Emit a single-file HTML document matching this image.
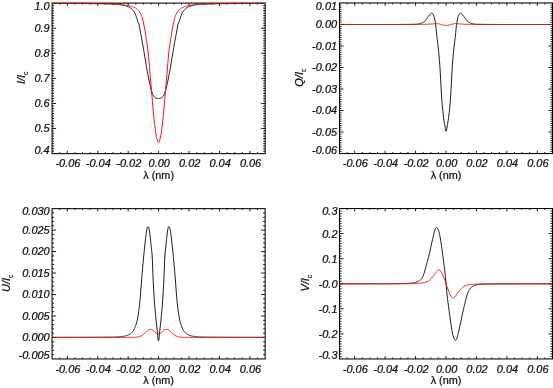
<!DOCTYPE html>
<html><head><meta charset="utf-8"><title>Stokes profiles</title>
<style>
html,body{margin:0;padding:0;background:#fff;}
body{width:553px;height:388px;overflow:hidden;}
svg{display:block;}
text{font-family:"Liberation Sans",Arial,Helvetica,sans-serif;fill:#111;stroke:#111;stroke-width:0.24px;}
.ti{font-size:10.2px;font-style:italic;}
.tr{font-size:10.5px;}
.sub{font-size:6.3px;font-style:normal;stroke-width:0.15px;}
</style></head><body>
<svg width="553" height="388" viewBox="0 0 553 388">
<rect width="553" height="388" fill="#fff"/>
<clipPath id="cP1"><rect x="52.07" y="2.6" width="213.10000000000002" height="151.55"/></clipPath>
<rect x="52.07" y="3.1" width="213.10000000000002" height="150.55" fill="none" stroke="#000" stroke-width="1.05"/>
<path d="M59.68,153.65v-1.5M59.68,3.1v1.5M67.29,153.65v-2.8M67.29,3.1v2.8M74.90,153.65v-1.5M74.90,3.1v1.5M82.51,153.65v-1.5M82.51,3.1v1.5M90.12,153.65v-1.5M90.12,3.1v1.5M97.73,153.65v-2.8M97.73,3.1v2.8M105.34,153.65v-1.5M105.34,3.1v1.5M112.96,153.65v-1.5M112.96,3.1v1.5M120.57,153.65v-1.5M120.57,3.1v1.5M128.18,153.65v-2.8M128.18,3.1v2.8M135.79,153.65v-1.5M135.79,3.1v1.5M143.40,153.65v-1.5M143.40,3.1v1.5M151.01,153.65v-1.5M151.01,3.1v1.5M158.62,153.65v-2.8M158.62,3.1v2.8M166.23,153.65v-1.5M166.23,3.1v1.5M173.84,153.65v-1.5M173.84,3.1v1.5M181.45,153.65v-1.5M181.45,3.1v1.5M189.06,153.65v-2.8M189.06,3.1v2.8M196.67,153.65v-1.5M196.67,3.1v1.5M204.28,153.65v-1.5M204.28,3.1v1.5M211.90,153.65v-1.5M211.90,3.1v1.5M219.51,153.65v-2.8M219.51,3.1v2.8M227.12,153.65v-1.5M227.12,3.1v1.5M234.73,153.65v-1.5M234.73,3.1v1.5M242.34,153.65v-1.5M242.34,3.1v1.5M249.95,153.65v-2.8M249.95,3.1v2.8M257.56,153.65v-1.5M257.56,3.1v1.5M52.07,151.14h2.0M265.17,151.14h-2.0M52.07,148.63h2.0M265.17,148.63h-2.0M52.07,146.12h2.0M265.17,146.12h-2.0M52.07,143.61h2.0M265.17,143.61h-2.0M52.07,141.10h2.0M265.17,141.10h-2.0M52.07,138.59h2.0M265.17,138.59h-2.0M52.07,136.09h2.0M265.17,136.09h-2.0M52.07,133.58h2.0M265.17,133.58h-2.0M52.07,131.07h2.0M265.17,131.07h-2.0M52.07,128.56h4.0M265.17,128.56h-4.0M52.07,126.05h2.0M265.17,126.05h-2.0M52.07,123.54h2.0M265.17,123.54h-2.0M52.07,121.03h2.0M265.17,121.03h-2.0M52.07,118.52h2.0M265.17,118.52h-2.0M52.07,116.01h2.0M265.17,116.01h-2.0M52.07,113.50h2.0M265.17,113.50h-2.0M52.07,110.99h2.0M265.17,110.99h-2.0M52.07,108.49h2.0M265.17,108.49h-2.0M52.07,105.98h2.0M265.17,105.98h-2.0M52.07,103.47h4.0M265.17,103.47h-4.0M52.07,100.96h2.0M265.17,100.96h-2.0M52.07,98.45h2.0M265.17,98.45h-2.0M52.07,95.94h2.0M265.17,95.94h-2.0M52.07,93.43h2.0M265.17,93.43h-2.0M52.07,90.92h2.0M265.17,90.92h-2.0M52.07,88.41h2.0M265.17,88.41h-2.0M52.07,85.90h2.0M265.17,85.90h-2.0M52.07,83.39h2.0M265.17,83.39h-2.0M52.07,80.88h2.0M265.17,80.88h-2.0M52.07,78.38h4.0M265.17,78.38h-4.0M52.07,75.87h2.0M265.17,75.87h-2.0M52.07,73.36h2.0M265.17,73.36h-2.0M52.07,70.85h2.0M265.17,70.85h-2.0M52.07,68.34h2.0M265.17,68.34h-2.0M52.07,65.83h2.0M265.17,65.83h-2.0M52.07,63.32h2.0M265.17,63.32h-2.0M52.07,60.81h2.0M265.17,60.81h-2.0M52.07,58.30h2.0M265.17,58.30h-2.0M52.07,55.79h2.0M265.17,55.79h-2.0M52.07,53.28h4.0M265.17,53.28h-4.0M52.07,50.77h2.0M265.17,50.77h-2.0M52.07,48.27h2.0M265.17,48.27h-2.0M52.07,45.76h2.0M265.17,45.76h-2.0M52.07,43.25h2.0M265.17,43.25h-2.0M52.07,40.74h2.0M265.17,40.74h-2.0M52.07,38.23h2.0M265.17,38.23h-2.0M52.07,35.72h2.0M265.17,35.72h-2.0M52.07,33.21h2.0M265.17,33.21h-2.0M52.07,30.70h2.0M265.17,30.70h-2.0M52.07,28.19h4.0M265.17,28.19h-4.0M52.07,25.68h2.0M265.17,25.68h-2.0M52.07,23.17h2.0M265.17,23.17h-2.0M52.07,20.66h2.0M265.17,20.66h-2.0M52.07,18.16h2.0M265.17,18.16h-2.0M52.07,15.65h2.0M265.17,15.65h-2.0M52.07,13.14h2.0M265.17,13.14h-2.0M52.07,10.63h2.0M265.17,10.63h-2.0M52.07,8.12h2.0M265.17,8.12h-2.0M52.07,5.61h2.0M265.17,5.61h-2.0" stroke="#000" stroke-width="0.9" fill="none"/>
<path clip-path="url(#cP1)" d="M52.07,3.35 L52.50,3.35 L52.92,3.35 L53.35,3.35 L53.78,3.35 L54.21,3.35 L54.63,3.35 L55.06,3.35 L55.49,3.35 L55.91,3.35 L56.34,3.35 L56.77,3.35 L57.19,3.36 L57.62,3.36 L58.05,3.36 L58.48,3.36 L58.90,3.36 L59.33,3.36 L59.76,3.36 L60.18,3.36 L60.61,3.37 L61.04,3.37 L61.47,3.37 L61.89,3.37 L62.32,3.37 L62.75,3.38 L63.17,3.38 L63.60,3.38 L64.03,3.38 L64.45,3.38 L64.88,3.39 L65.31,3.39 L65.74,3.39 L66.16,3.39 L66.59,3.40 L67.02,3.40 L67.44,3.40 L67.87,3.41 L68.30,3.41 L68.73,3.41 L69.15,3.41 L69.58,3.42 L70.01,3.42 L70.43,3.42 L70.86,3.43 L71.29,3.43 L71.71,3.43 L72.14,3.44 L72.57,3.44 L73.00,3.44 L73.42,3.45 L73.85,3.45 L74.28,3.46 L74.70,3.46 L75.13,3.46 L75.56,3.47 L75.99,3.47 L76.41,3.47 L76.84,3.48 L77.27,3.48 L77.69,3.49 L78.12,3.49 L78.55,3.49 L78.97,3.50 L79.40,3.50 L79.83,3.51 L80.26,3.51 L80.68,3.52 L81.11,3.52 L81.54,3.52 L81.96,3.53 L82.39,3.53 L82.82,3.54 L83.24,3.54 L83.67,3.55 L84.10,3.55 L84.53,3.56 L84.95,3.56 L85.38,3.57 L85.81,3.57 L86.23,3.57 L86.66,3.58 L87.09,3.58 L87.52,3.59 L87.94,3.59 L88.37,3.60 L88.80,3.60 L89.22,3.61 L89.65,3.61 L90.08,3.62 L90.50,3.62 L90.93,3.63 L91.36,3.63 L91.79,3.64 L92.21,3.64 L92.64,3.65 L93.07,3.65 L93.49,3.66 L93.92,3.67 L94.35,3.67 L94.78,3.68 L95.20,3.68 L95.63,3.69 L96.06,3.70 L96.48,3.70 L96.91,3.71 L97.34,3.72 L97.76,3.72 L98.19,3.73 L98.62,3.74 L99.05,3.75 L99.47,3.76 L99.90,3.76 L100.33,3.77 L100.75,3.78 L101.18,3.79 L101.61,3.80 L102.04,3.81 L102.46,3.82 L102.89,3.83 L103.32,3.84 L103.74,3.85 L104.17,3.86 L104.60,3.87 L105.02,3.88 L105.45,3.89 L105.88,3.90 L106.31,3.92 L106.73,3.93 L107.16,3.94 L107.59,3.95 L108.01,3.97 L108.44,3.98 L108.87,4.00 L109.30,4.01 L109.72,4.03 L110.15,4.04 L110.58,4.06 L111.00,4.07 L111.43,4.09 L111.86,4.11 L112.28,4.12 L112.71,4.14 L113.14,4.16 L113.57,4.18 L113.99,4.20 L114.42,4.22 L114.85,4.24 L115.27,4.26 L115.70,4.28 L116.13,4.30 L116.56,4.32 L116.98,4.34 L117.41,4.37 L117.84,4.39 L118.26,4.42 L118.69,4.45 L119.12,4.49 L119.54,4.54 L119.97,4.60 L120.40,4.67 L120.83,4.74 L121.25,4.82 L121.68,4.91 L122.11,5.00 L122.53,5.10 L122.96,5.20 L123.39,5.30 L123.82,5.41 L124.24,5.52 L124.67,5.63 L125.10,5.75 L125.52,5.87 L125.95,5.99 L126.38,6.11 L126.80,6.24 L127.23,6.39 L127.66,6.55 L128.09,6.72 L128.51,6.90 L128.94,7.10 L129.37,7.31 L129.79,7.54 L130.22,7.79 L130.65,8.07 L131.08,8.40 L131.50,8.75 L131.93,9.13 L132.36,9.55 L132.78,9.99 L133.21,10.48 L133.64,11.02 L134.06,11.64 L134.49,12.33 L134.92,13.13 L135.35,14.12 L135.77,15.25 L136.20,16.43 L136.63,17.63 L137.05,18.94 L137.48,20.26 L137.91,21.52 L138.33,22.58 L138.76,23.59 L139.19,24.96 L139.62,27.49 L140.04,29.93 L140.47,32.25 L140.90,34.52 L141.32,36.79 L141.75,39.11 L142.18,41.48 L142.61,43.88 L143.03,46.31 L143.46,48.77 L143.89,51.26 L144.31,53.80 L144.74,56.36 L145.17,58.91 L145.59,61.47 L146.02,64.07 L146.45,66.67 L146.88,69.19 L147.30,71.56 L147.73,73.82 L148.16,76.00 L148.58,78.10 L149.01,80.13 L149.44,82.10 L149.87,84.11 L150.29,86.08 L150.72,87.96 L151.15,89.66 L151.57,91.12 L152.00,92.34 L152.43,93.46 L152.85,94.46 L153.28,95.33 L153.71,96.04 L154.14,96.59 L154.56,97.09 L154.99,97.52 L155.42,97.87 L155.84,98.12 L156.27,98.26 L156.70,98.37 L157.13,98.43 L157.55,98.47 L157.98,98.49 L158.41,98.50 L158.83,98.50 L159.26,98.48 L159.69,98.45 L160.11,98.40 L160.54,98.31 L160.97,98.19 L161.40,97.99 L161.82,97.68 L162.25,97.28 L162.68,96.81 L163.10,96.29 L163.53,95.66 L163.96,94.86 L164.39,93.91 L164.81,92.84 L165.24,91.67 L165.67,90.34 L166.09,88.73 L166.52,86.92 L166.95,84.98 L167.37,82.98 L167.80,80.99 L168.23,79.00 L168.66,76.93 L169.08,74.78 L169.51,72.56 L169.94,70.25 L170.36,67.78 L170.79,65.22 L171.22,62.61 L171.65,60.03 L172.07,57.48 L172.50,54.92 L172.93,52.37 L173.35,49.85 L173.78,47.38 L174.21,44.94 L174.63,42.53 L175.06,40.15 L175.49,37.79 L175.92,35.51 L176.34,33.25 L176.77,30.96 L177.20,28.59 L177.62,25.91 L178.05,24.13 L178.48,23.00 L178.91,22.01 L179.33,20.82 L179.76,19.52 L180.19,18.20 L180.61,16.94 L181.04,15.76 L181.47,14.60 L181.89,13.54 L182.32,12.66 L182.75,11.93 L183.18,11.28 L183.60,10.71 L184.03,10.19 L184.46,9.74 L184.88,9.31 L185.31,8.91 L185.74,8.55 L186.16,8.21 L186.59,7.91 L187.02,7.65 L187.45,7.41 L187.87,7.19 L188.30,6.99 L188.73,6.80 L189.15,6.62 L189.58,6.46 L190.01,6.31 L190.44,6.17 L190.86,6.04 L191.29,5.92 L191.72,5.80 L192.14,5.68 L192.57,5.57 L193.00,5.46 L193.42,5.35 L193.85,5.24 L194.28,5.14 L194.71,5.04 L195.13,4.95 L195.56,4.86 L195.99,4.78 L196.41,4.70 L196.84,4.63 L197.27,4.57 L197.70,4.51 L198.12,4.47 L198.55,4.43 L198.98,4.40 L199.40,4.38 L199.83,4.35 L200.26,4.33 L200.68,4.31 L201.11,4.29 L201.54,4.27 L201.97,4.25 L202.39,4.23 L202.82,4.21 L203.25,4.19 L203.67,4.17 L204.10,4.15 L204.53,4.13 L204.96,4.11 L205.38,4.10 L205.81,4.08 L206.24,4.06 L206.66,4.05 L207.09,4.03 L207.52,4.02 L207.94,4.00 L208.37,3.99 L208.80,3.97 L209.23,3.96 L209.65,3.95 L210.08,3.93 L210.51,3.92 L210.93,3.91 L211.36,3.90 L211.79,3.89 L212.22,3.87 L212.64,3.86 L213.07,3.85 L213.50,3.84 L213.92,3.83 L214.35,3.82 L214.78,3.81 L215.20,3.80 L215.63,3.79 L216.06,3.78 L216.49,3.78 L216.91,3.77 L217.34,3.76 L217.77,3.75 L218.19,3.74 L218.62,3.74 L219.05,3.73 L219.48,3.72 L219.90,3.71 L220.33,3.71 L220.76,3.70 L221.18,3.69 L221.61,3.69 L222.04,3.68 L222.46,3.67 L222.89,3.67 L223.32,3.66 L223.75,3.66 L224.17,3.65 L224.60,3.65 L225.03,3.64 L225.45,3.64 L225.88,3.63 L226.31,3.63 L226.74,3.62 L227.16,3.62 L227.59,3.61 L228.02,3.61 L228.44,3.60 L228.87,3.60 L229.30,3.59 L229.72,3.59 L230.15,3.58 L230.58,3.58 L231.01,3.57 L231.43,3.57 L231.86,3.56 L232.29,3.56 L232.71,3.55 L233.14,3.55 L233.57,3.54 L234.00,3.54 L234.42,3.54 L234.85,3.53 L235.28,3.53 L235.70,3.52 L236.13,3.52 L236.56,3.51 L236.98,3.51 L237.41,3.50 L237.84,3.50 L238.27,3.50 L238.69,3.49 L239.12,3.49 L239.55,3.48 L239.97,3.48 L240.40,3.48 L240.83,3.47 L241.25,3.47 L241.68,3.46 L242.11,3.46 L242.54,3.46 L242.96,3.45 L243.39,3.45 L243.82,3.45 L244.24,3.44 L244.67,3.44 L245.10,3.44 L245.53,3.43 L245.95,3.43 L246.38,3.43 L246.81,3.42 L247.23,3.42 L247.66,3.42 L248.09,3.41 L248.51,3.41 L248.94,3.41 L249.37,3.40 L249.80,3.40 L250.22,3.40 L250.65,3.40 L251.08,3.39 L251.50,3.39 L251.93,3.39 L252.36,3.39 L252.79,3.38 L253.21,3.38 L253.64,3.38 L254.07,3.38 L254.49,3.37 L254.92,3.37 L255.35,3.37 L255.77,3.37 L256.20,3.37 L256.63,3.37 L257.06,3.36 L257.48,3.36 L257.91,3.36 L258.34,3.36 L258.76,3.36 L259.19,3.36 L259.62,3.36 L260.05,3.36 L260.47,3.35 L260.90,3.35 L261.33,3.35 L261.75,3.35 L262.18,3.35 L262.61,3.35 L263.03,3.35 L263.46,3.35 L263.89,3.35 L264.32,3.35 L264.74,3.35 L265.17,3.35" stroke="#111" stroke-width="0.95" fill="none" stroke-linejoin="round"/>
<path clip-path="url(#cP1)" d="M52.07,3.20 L52.50,3.20 L52.92,3.20 L53.35,3.20 L53.78,3.20 L54.21,3.20 L54.63,3.20 L55.06,3.20 L55.49,3.20 L55.91,3.20 L56.34,3.20 L56.77,3.20 L57.19,3.20 L57.62,3.21 L58.05,3.21 L58.48,3.21 L58.90,3.21 L59.33,3.21 L59.76,3.21 L60.18,3.21 L60.61,3.21 L61.04,3.21 L61.47,3.22 L61.89,3.22 L62.32,3.22 L62.75,3.22 L63.17,3.22 L63.60,3.22 L64.03,3.23 L64.45,3.23 L64.88,3.23 L65.31,3.23 L65.74,3.23 L66.16,3.24 L66.59,3.24 L67.02,3.24 L67.44,3.24 L67.87,3.24 L68.30,3.25 L68.73,3.25 L69.15,3.25 L69.58,3.25 L70.01,3.26 L70.43,3.26 L70.86,3.26 L71.29,3.26 L71.71,3.27 L72.14,3.27 L72.57,3.27 L73.00,3.28 L73.42,3.28 L73.85,3.28 L74.28,3.28 L74.70,3.29 L75.13,3.29 L75.56,3.29 L75.99,3.30 L76.41,3.30 L76.84,3.30 L77.27,3.31 L77.69,3.31 L78.12,3.31 L78.55,3.32 L78.97,3.32 L79.40,3.32 L79.83,3.33 L80.26,3.33 L80.68,3.33 L81.11,3.34 L81.54,3.34 L81.96,3.34 L82.39,3.35 L82.82,3.35 L83.24,3.35 L83.67,3.36 L84.10,3.36 L84.53,3.37 L84.95,3.37 L85.38,3.37 L85.81,3.38 L86.23,3.38 L86.66,3.38 L87.09,3.39 L87.52,3.39 L87.94,3.40 L88.37,3.40 L88.80,3.40 L89.22,3.41 L89.65,3.41 L90.08,3.41 L90.50,3.42 L90.93,3.42 L91.36,3.43 L91.79,3.43 L92.21,3.43 L92.64,3.44 L93.07,3.44 L93.49,3.45 L93.92,3.45 L94.35,3.46 L94.78,3.46 L95.20,3.47 L95.63,3.47 L96.06,3.47 L96.48,3.48 L96.91,3.48 L97.34,3.49 L97.76,3.50 L98.19,3.50 L98.62,3.51 L99.05,3.51 L99.47,3.52 L99.90,3.52 L100.33,3.53 L100.75,3.54 L101.18,3.54 L101.61,3.55 L102.04,3.56 L102.46,3.56 L102.89,3.57 L103.32,3.58 L103.74,3.59 L104.17,3.60 L104.60,3.60 L105.02,3.61 L105.45,3.62 L105.88,3.63 L106.31,3.64 L106.73,3.65 L107.16,3.66 L107.59,3.67 L108.01,3.68 L108.44,3.69 L108.87,3.70 L109.30,3.71 L109.72,3.72 L110.15,3.73 L110.58,3.74 L111.00,3.76 L111.43,3.77 L111.86,3.78 L112.28,3.79 L112.71,3.81 L113.14,3.82 L113.57,3.83 L113.99,3.85 L114.42,3.86 L114.85,3.88 L115.27,3.89 L115.70,3.91 L116.13,3.93 L116.56,3.94 L116.98,3.96 L117.41,3.98 L117.84,3.99 L118.26,4.01 L118.69,4.04 L119.12,4.07 L119.54,4.12 L119.97,4.16 L120.40,4.22 L120.83,4.28 L121.25,4.34 L121.68,4.41 L122.11,4.48 L122.53,4.55 L122.96,4.63 L123.39,4.71 L123.82,4.79 L124.24,4.87 L124.67,4.95 L125.10,5.03 L125.52,5.11 L125.95,5.19 L126.38,5.27 L126.80,5.35 L127.23,5.43 L127.66,5.51 L128.09,5.59 L128.51,5.68 L128.94,5.77 L129.37,5.86 L129.79,5.96 L130.22,6.06 L130.65,6.17 L131.08,6.28 L131.50,6.40 L131.93,6.53 L132.36,6.66 L132.78,6.80 L133.21,6.96 L133.64,7.12 L134.06,7.30 L134.49,7.49 L134.92,7.70 L135.35,7.92 L135.77,8.16 L136.20,8.44 L136.63,8.75 L137.05,9.10 L137.48,9.49 L137.91,9.90 L138.33,10.34 L138.76,10.82 L139.19,11.37 L139.62,11.99 L140.04,12.66 L140.47,13.40 L140.90,14.24 L141.32,15.20 L141.75,16.29 L142.18,17.55 L142.61,19.07 L143.03,20.79 L143.46,22.73 L143.89,24.93 L144.31,27.03 L144.74,29.35 L145.17,31.89 L145.59,34.57 L146.02,37.32 L146.45,40.04 L146.88,42.66 L147.30,45.38 L147.73,48.45 L148.16,52.17 L148.58,56.55 L149.01,61.27 L149.44,66.55 L149.87,71.75 L150.29,76.47 L150.72,81.23 L151.15,86.34 L151.57,91.47 L152.00,96.50 L152.43,101.50 L152.85,106.58 L153.28,111.33 L153.71,115.58 L154.14,119.56 L154.56,123.41 L154.99,126.93 L155.42,130.20 L155.84,133.53 L156.27,136.16 L156.70,138.02 L157.13,139.54 L157.55,140.91 L157.98,141.97 L158.41,142.46 L158.83,142.22 L159.26,141.45 L159.69,140.14 L160.11,138.72 L160.54,137.03 L160.97,134.82 L161.40,131.68 L161.82,128.37 L162.25,125.00 L162.68,121.26 L163.10,117.34 L163.53,113.24 L163.96,108.73 L164.39,103.73 L164.81,98.69 L165.24,93.68 L165.67,88.61 L166.09,83.43 L166.52,78.52 L166.95,73.85 L167.37,68.90 L167.80,63.53 L168.23,58.58 L168.66,54.03 L169.08,49.98 L169.51,46.66 L169.94,43.82 L170.36,41.19 L170.79,38.52 L171.22,35.77 L171.65,33.05 L172.07,30.44 L172.50,28.00 L172.93,25.85 L173.35,23.69 L173.78,21.59 L174.21,19.80 L174.63,18.18 L175.06,16.81 L175.49,15.66 L175.92,14.65 L176.34,13.76 L176.77,12.98 L177.20,12.28 L177.62,11.64 L178.05,11.06 L178.48,10.54 L178.91,10.09 L179.33,9.66 L179.76,9.27 L180.19,8.90 L180.61,8.57 L181.04,8.28 L181.47,8.02 L181.89,7.79 L182.32,7.58 L182.75,7.38 L183.18,7.20 L183.60,7.03 L184.03,6.87 L184.46,6.72 L184.88,6.58 L185.31,6.45 L185.74,6.33 L186.16,6.22 L186.59,6.11 L187.02,6.00 L187.45,5.90 L187.87,5.81 L188.30,5.72 L188.73,5.63 L189.15,5.54 L189.58,5.46 L190.01,5.38 L190.44,5.30 L190.86,5.22 L191.29,5.15 L191.72,5.07 L192.14,4.99 L192.57,4.91 L193.00,4.83 L193.42,4.75 L193.85,4.67 L194.28,4.59 L194.71,4.51 L195.13,4.44 L195.56,4.37 L195.99,4.30 L196.41,4.24 L196.84,4.19 L197.27,4.14 L197.70,4.09 L198.12,4.05 L198.55,4.02 L198.98,4.00 L199.40,3.98 L199.83,3.97 L200.26,3.95 L200.68,3.93 L201.11,3.92 L201.54,3.90 L201.97,3.88 L202.39,3.87 L202.82,3.85 L203.25,3.84 L203.67,3.83 L204.10,3.81 L204.53,3.80 L204.96,3.79 L205.38,3.77 L205.81,3.76 L206.24,3.75 L206.66,3.74 L207.09,3.73 L207.52,3.71 L207.94,3.70 L208.37,3.69 L208.80,3.68 L209.23,3.67 L209.65,3.66 L210.08,3.65 L210.51,3.64 L210.93,3.63 L211.36,3.62 L211.79,3.62 L212.22,3.61 L212.64,3.60 L213.07,3.59 L213.50,3.58 L213.92,3.58 L214.35,3.57 L214.78,3.56 L215.20,3.55 L215.63,3.55 L216.06,3.54 L216.49,3.53 L216.91,3.53 L217.34,3.52 L217.77,3.51 L218.19,3.51 L218.62,3.50 L219.05,3.50 L219.48,3.49 L219.90,3.49 L220.33,3.48 L220.76,3.48 L221.18,3.47 L221.61,3.47 L222.04,3.46 L222.46,3.46 L222.89,3.45 L223.32,3.45 L223.75,3.44 L224.17,3.44 L224.60,3.44 L225.03,3.43 L225.45,3.43 L225.88,3.42 L226.31,3.42 L226.74,3.42 L227.16,3.41 L227.59,3.41 L228.02,3.40 L228.44,3.40 L228.87,3.40 L229.30,3.39 L229.72,3.39 L230.15,3.39 L230.58,3.38 L231.01,3.38 L231.43,3.37 L231.86,3.37 L232.29,3.37 L232.71,3.36 L233.14,3.36 L233.57,3.36 L234.00,3.35 L234.42,3.35 L234.85,3.35 L235.28,3.34 L235.70,3.34 L236.13,3.33 L236.56,3.33 L236.98,3.33 L237.41,3.32 L237.84,3.32 L238.27,3.32 L238.69,3.31 L239.12,3.31 L239.55,3.31 L239.97,3.30 L240.40,3.30 L240.83,3.30 L241.25,3.30 L241.68,3.29 L242.11,3.29 L242.54,3.29 L242.96,3.28 L243.39,3.28 L243.82,3.28 L244.24,3.27 L244.67,3.27 L245.10,3.27 L245.53,3.27 L245.95,3.26 L246.38,3.26 L246.81,3.26 L247.23,3.26 L247.66,3.25 L248.09,3.25 L248.51,3.25 L248.94,3.25 L249.37,3.24 L249.80,3.24 L250.22,3.24 L250.65,3.24 L251.08,3.23 L251.50,3.23 L251.93,3.23 L252.36,3.23 L252.79,3.23 L253.21,3.23 L253.64,3.22 L254.07,3.22 L254.49,3.22 L254.92,3.22 L255.35,3.22 L255.77,3.22 L256.20,3.21 L256.63,3.21 L257.06,3.21 L257.48,3.21 L257.91,3.21 L258.34,3.21 L258.76,3.21 L259.19,3.21 L259.62,3.20 L260.05,3.20 L260.47,3.20 L260.90,3.20 L261.33,3.20 L261.75,3.20 L262.18,3.20 L262.61,3.20 L263.03,3.20 L263.46,3.20 L263.89,3.20 L264.32,3.20 L264.74,3.20 L265.17,3.20" stroke="#f00" stroke-width="0.95" fill="none" stroke-linejoin="round"/>
<text transform="translate(67.89,167.25) scale(1.075,1)" text-anchor="middle" class="ti">-0.06</text>
<text transform="translate(98.33,167.25) scale(1.075,1)" text-anchor="middle" class="ti">-0.04</text>
<text transform="translate(128.78,167.25) scale(1.075,1)" text-anchor="middle" class="ti">-0.02</text>
<text transform="translate(159.22,167.25) scale(1.075,1)" text-anchor="middle" class="ti">0.00</text>
<text transform="translate(189.66,167.25) scale(1.075,1)" text-anchor="middle" class="ti">0.02</text>
<text transform="translate(220.11,167.25) scale(1.075,1)" text-anchor="middle" class="ti">0.04</text>
<text transform="translate(250.55,167.25) scale(1.075,1)" text-anchor="middle" class="ti">0.06</text>
<text transform="translate(158.62,178.85) scale(1.035,1)" text-anchor="middle" class="tr">λ (nm)</text>
<text transform="translate(49.67,154.05) scale(1.075,1)" text-anchor="end" class="ti">0.4</text>
<text transform="translate(49.67,132.21) scale(1.075,1)" text-anchor="end" class="ti">0.5</text>
<text transform="translate(49.67,107.12) scale(1.075,1)" text-anchor="end" class="ti">0.6</text>
<text transform="translate(49.67,82.02) scale(1.075,1)" text-anchor="end" class="ti">0.7</text>
<text transform="translate(49.67,56.93) scale(1.075,1)" text-anchor="end" class="ti">0.8</text>
<text transform="translate(49.67,31.84) scale(1.075,1)" text-anchor="end" class="ti">0.9</text>
<text transform="translate(49.67,9.70) scale(1.075,1)" text-anchor="end" class="ti">1.0</text>
<text transform="translate(24.67,77.78) rotate(-90) scale(1.075,1)" text-anchor="middle" class="ti">I/I<tspan class="sub" dy="3.1">c</tspan></text>
<clipPath id="cP2"><rect x="339.5" y="2.45" width="213.0" height="151.60000000000002"/></clipPath>
<rect x="339.5" y="2.95" width="213.0" height="150.60000000000002" fill="none" stroke="#000" stroke-width="1.05"/>
<path d="M347.11,153.55v-1.5M347.11,2.95v1.5M354.71,153.55v-2.8M354.71,2.95v2.8M362.32,153.55v-1.5M362.32,2.95v1.5M369.93,153.55v-1.5M369.93,2.95v1.5M377.54,153.55v-1.5M377.54,2.95v1.5M385.14,153.55v-2.8M385.14,2.95v2.8M392.75,153.55v-1.5M392.75,2.95v1.5M400.36,153.55v-1.5M400.36,2.95v1.5M407.96,153.55v-1.5M407.96,2.95v1.5M415.57,153.55v-2.8M415.57,2.95v2.8M423.18,153.55v-1.5M423.18,2.95v1.5M430.79,153.55v-1.5M430.79,2.95v1.5M438.39,153.55v-1.5M438.39,2.95v1.5M446.00,153.55v-2.8M446.00,2.95v2.8M453.61,153.55v-1.5M453.61,2.95v1.5M461.21,153.55v-1.5M461.21,2.95v1.5M468.82,153.55v-1.5M468.82,2.95v1.5M476.43,153.55v-2.8M476.43,2.95v2.8M484.04,153.55v-1.5M484.04,2.95v1.5M491.64,153.55v-1.5M491.64,2.95v1.5M499.25,153.55v-1.5M499.25,2.95v1.5M506.86,153.55v-2.8M506.86,2.95v2.8M514.46,153.55v-1.5M514.46,2.95v1.5M522.07,153.55v-1.5M522.07,2.95v1.5M529.68,153.55v-1.5M529.68,2.95v1.5M537.29,153.55v-2.8M537.29,2.95v2.8M544.89,153.55v-1.5M544.89,2.95v1.5M339.5,151.40h2.0M552.5,151.40h-2.0M339.5,149.25h2.0M552.5,149.25h-2.0M339.5,147.10h2.0M552.5,147.10h-2.0M339.5,144.94h2.0M552.5,144.94h-2.0M339.5,142.79h2.0M552.5,142.79h-2.0M339.5,140.64h2.0M552.5,140.64h-2.0M339.5,138.49h2.0M552.5,138.49h-2.0M339.5,136.34h2.0M552.5,136.34h-2.0M339.5,134.19h2.0M552.5,134.19h-2.0M339.5,132.04h4.0M552.5,132.04h-4.0M339.5,129.88h2.0M552.5,129.88h-2.0M339.5,127.73h2.0M552.5,127.73h-2.0M339.5,125.58h2.0M552.5,125.58h-2.0M339.5,123.43h2.0M552.5,123.43h-2.0M339.5,121.28h2.0M552.5,121.28h-2.0M339.5,119.13h2.0M552.5,119.13h-2.0M339.5,116.98h2.0M552.5,116.98h-2.0M339.5,114.82h2.0M552.5,114.82h-2.0M339.5,112.67h2.0M552.5,112.67h-2.0M339.5,110.52h4.0M552.5,110.52h-4.0M339.5,108.37h2.0M552.5,108.37h-2.0M339.5,106.22h2.0M552.5,106.22h-2.0M339.5,104.07h2.0M552.5,104.07h-2.0M339.5,101.92h2.0M552.5,101.92h-2.0M339.5,99.76h2.0M552.5,99.76h-2.0M339.5,97.61h2.0M552.5,97.61h-2.0M339.5,95.46h2.0M552.5,95.46h-2.0M339.5,93.31h2.0M552.5,93.31h-2.0M339.5,91.16h2.0M552.5,91.16h-2.0M339.5,89.01h4.0M552.5,89.01h-4.0M339.5,86.86h2.0M552.5,86.86h-2.0M339.5,84.70h2.0M552.5,84.70h-2.0M339.5,82.55h2.0M552.5,82.55h-2.0M339.5,80.40h2.0M552.5,80.40h-2.0M339.5,78.25h2.0M552.5,78.25h-2.0M339.5,76.10h2.0M552.5,76.10h-2.0M339.5,73.95h2.0M552.5,73.95h-2.0M339.5,71.80h2.0M552.5,71.80h-2.0M339.5,69.64h2.0M552.5,69.64h-2.0M339.5,67.49h4.0M552.5,67.49h-4.0M339.5,65.34h2.0M552.5,65.34h-2.0M339.5,63.19h2.0M552.5,63.19h-2.0M339.5,61.04h2.0M552.5,61.04h-2.0M339.5,58.89h2.0M552.5,58.89h-2.0M339.5,56.74h2.0M552.5,56.74h-2.0M339.5,54.58h2.0M552.5,54.58h-2.0M339.5,52.43h2.0M552.5,52.43h-2.0M339.5,50.28h2.0M552.5,50.28h-2.0M339.5,48.13h2.0M552.5,48.13h-2.0M339.5,45.98h4.0M552.5,45.98h-4.0M339.5,43.83h2.0M552.5,43.83h-2.0M339.5,41.68h2.0M552.5,41.68h-2.0M339.5,39.52h2.0M552.5,39.52h-2.0M339.5,37.37h2.0M552.5,37.37h-2.0M339.5,35.22h2.0M552.5,35.22h-2.0M339.5,33.07h2.0M552.5,33.07h-2.0M339.5,30.92h2.0M552.5,30.92h-2.0M339.5,28.77h2.0M552.5,28.77h-2.0M339.5,26.62h2.0M552.5,26.62h-2.0M339.5,24.46h4.0M552.5,24.46h-4.0M339.5,22.31h2.0M552.5,22.31h-2.0M339.5,20.16h2.0M552.5,20.16h-2.0M339.5,18.01h2.0M552.5,18.01h-2.0M339.5,15.86h2.0M552.5,15.86h-2.0M339.5,13.71h2.0M552.5,13.71h-2.0M339.5,11.56h2.0M552.5,11.56h-2.0M339.5,9.40h2.0M552.5,9.40h-2.0M339.5,7.25h2.0M552.5,7.25h-2.0M339.5,5.10h2.0M552.5,5.10h-2.0" stroke="#000" stroke-width="0.9" fill="none"/>
<path clip-path="url(#cP2)" d="M339.50,24.50 L339.93,24.50 L340.35,24.50 L340.78,24.50 L341.21,24.50 L341.63,24.50 L342.06,24.50 L342.49,24.50 L342.91,24.50 L343.34,24.50 L343.77,24.50 L344.20,24.50 L344.62,24.50 L345.05,24.50 L345.48,24.50 L345.90,24.50 L346.33,24.50 L346.76,24.50 L347.18,24.50 L347.61,24.50 L348.04,24.50 L348.46,24.50 L348.89,24.50 L349.32,24.50 L349.74,24.50 L350.17,24.50 L350.60,24.50 L351.03,24.50 L351.45,24.50 L351.88,24.50 L352.31,24.50 L352.73,24.50 L353.16,24.50 L353.59,24.50 L354.01,24.50 L354.44,24.50 L354.87,24.50 L355.29,24.50 L355.72,24.50 L356.15,24.50 L356.57,24.50 L357.00,24.50 L357.43,24.50 L357.85,24.50 L358.28,24.50 L358.71,24.50 L359.14,24.50 L359.56,24.50 L359.99,24.50 L360.42,24.50 L360.84,24.50 L361.27,24.50 L361.70,24.50 L362.12,24.50 L362.55,24.50 L362.98,24.50 L363.40,24.49 L363.83,24.49 L364.26,24.49 L364.68,24.49 L365.11,24.49 L365.54,24.49 L365.96,24.49 L366.39,24.49 L366.82,24.49 L367.25,24.49 L367.67,24.49 L368.10,24.49 L368.53,24.49 L368.95,24.49 L369.38,24.49 L369.81,24.49 L370.23,24.49 L370.66,24.49 L371.09,24.49 L371.51,24.49 L371.94,24.49 L372.37,24.49 L372.79,24.49 L373.22,24.49 L373.65,24.49 L374.08,24.49 L374.50,24.49 L374.93,24.49 L375.36,24.49 L375.78,24.49 L376.21,24.49 L376.64,24.49 L377.06,24.49 L377.49,24.49 L377.92,24.49 L378.34,24.49 L378.77,24.49 L379.20,24.49 L379.62,24.49 L380.05,24.48 L380.48,24.48 L380.90,24.48 L381.33,24.48 L381.76,24.48 L382.19,24.48 L382.61,24.48 L383.04,24.48 L383.47,24.48 L383.89,24.48 L384.32,24.48 L384.75,24.48 L385.17,24.48 L385.60,24.48 L386.03,24.48 L386.45,24.48 L386.88,24.48 L387.31,24.48 L387.73,24.48 L388.16,24.48 L388.59,24.48 L389.02,24.48 L389.44,24.48 L389.87,24.47 L390.30,24.47 L390.72,24.47 L391.15,24.47 L391.58,24.47 L392.00,24.47 L392.43,24.47 L392.86,24.47 L393.28,24.47 L393.71,24.46 L394.14,24.46 L394.56,24.46 L394.99,24.46 L395.42,24.46 L395.84,24.46 L396.27,24.45 L396.70,24.45 L397.13,24.45 L397.55,24.45 L397.98,24.45 L398.41,24.44 L398.83,24.44 L399.26,24.44 L399.69,24.44 L400.11,24.44 L400.54,24.43 L400.97,24.43 L401.39,24.43 L401.82,24.43 L402.25,24.42 L402.67,24.42 L403.10,24.42 L403.53,24.42 L403.95,24.41 L404.38,24.41 L404.81,24.41 L405.24,24.41 L405.66,24.40 L406.09,24.40 L406.52,24.40 L406.94,24.39 L407.37,24.39 L407.80,24.39 L408.22,24.38 L408.65,24.38 L409.08,24.38 L409.50,24.37 L409.93,24.37 L410.36,24.36 L410.78,24.36 L411.21,24.35 L411.64,24.34 L412.07,24.34 L412.49,24.33 L412.92,24.32 L413.35,24.31 L413.77,24.30 L414.20,24.29 L414.63,24.28 L415.05,24.27 L415.48,24.26 L415.91,24.25 L416.33,24.22 L416.76,24.19 L417.19,24.15 L417.61,24.09 L418.04,24.03 L418.47,23.95 L418.89,23.87 L419.32,23.78 L419.75,23.69 L420.18,23.58 L420.60,23.48 L421.03,23.36 L421.46,23.22 L421.88,23.05 L422.31,22.84 L422.74,22.61 L423.16,22.35 L423.59,22.07 L424.02,21.77 L424.44,21.44 L424.87,21.07 L425.30,20.62 L425.72,20.10 L426.15,19.53 L426.58,18.94 L427.01,18.34 L427.43,17.76 L427.86,17.16 L428.29,16.53 L428.71,15.90 L429.14,15.31 L429.57,14.77 L429.99,14.27 L430.42,13.83 L430.85,13.46 L431.27,13.22 L431.70,13.10 L432.13,13.20 L432.55,13.48 L432.98,14.10 L433.41,14.92 L433.83,15.96 L434.26,17.27 L434.69,18.99 L435.12,21.21 L435.54,23.99 L435.97,27.44 L436.40,31.49 L436.82,35.83 L437.25,39.51 L437.68,42.62 L438.10,46.31 L438.53,50.38 L438.96,54.76 L439.38,59.48 L439.81,64.92 L440.24,72.05 L440.66,80.11 L441.09,88.19 L441.52,95.32 L441.94,101.32 L442.37,106.51 L442.80,110.80 L443.23,114.52 L443.65,117.81 L444.08,120.80 L444.51,123.39 L444.93,125.80 L445.36,128.45 L445.79,130.72 L446.21,131.27 L446.64,129.60 L447.07,127.02 L447.49,124.51 L447.92,122.06 L448.35,119.24 L448.77,116.11 L449.20,112.60 L449.63,108.62 L450.06,103.87 L450.48,98.22 L450.91,91.75 L451.34,83.91 L451.76,75.90 L452.19,67.94 L452.62,61.91 L453.04,56.91 L453.47,52.41 L453.90,48.17 L454.32,44.30 L454.75,40.88 L455.18,37.76 L455.60,33.46 L456.03,29.29 L456.46,25.54 L456.88,22.41 L457.31,19.98 L457.74,18.00 L458.17,16.54 L458.59,15.37 L459.02,14.47 L459.45,13.73 L459.87,13.31 L460.30,13.12 L460.73,13.15 L461.15,13.33 L461.58,13.65 L462.01,14.05 L462.43,14.53 L462.86,15.05 L463.29,15.61 L463.71,16.23 L464.14,16.86 L464.57,17.48 L464.99,18.06 L465.42,18.65 L465.85,19.25 L466.28,19.83 L466.70,20.38 L467.13,20.87 L467.56,21.28 L467.98,21.62 L468.41,21.93 L468.84,22.22 L469.26,22.49 L469.69,22.74 L470.12,22.96 L470.54,23.15 L470.97,23.30 L471.40,23.43 L471.82,23.54 L472.25,23.64 L472.68,23.74 L473.11,23.83 L473.53,23.92 L473.96,23.99 L474.39,24.06 L474.81,24.12 L475.24,24.17 L475.67,24.21 L476.09,24.24 L476.52,24.25 L476.95,24.27 L477.37,24.28 L477.80,24.29 L478.23,24.30 L478.65,24.31 L479.08,24.32 L479.51,24.33 L479.93,24.33 L480.36,24.34 L480.79,24.35 L481.22,24.35 L481.64,24.36 L482.07,24.36 L482.50,24.37 L482.92,24.37 L483.35,24.38 L483.78,24.38 L484.20,24.39 L484.63,24.39 L485.06,24.39 L485.48,24.40 L485.91,24.40 L486.34,24.40 L486.76,24.40 L487.19,24.41 L487.62,24.41 L488.05,24.41 L488.47,24.42 L488.90,24.42 L489.33,24.42 L489.75,24.42 L490.18,24.43 L490.61,24.43 L491.03,24.43 L491.46,24.43 L491.89,24.44 L492.31,24.44 L492.74,24.44 L493.17,24.44 L493.59,24.44 L494.02,24.45 L494.45,24.45 L494.87,24.45 L495.30,24.45 L495.73,24.45 L496.16,24.46 L496.58,24.46 L497.01,24.46 L497.44,24.46 L497.86,24.46 L498.29,24.46 L498.72,24.46 L499.14,24.47 L499.57,24.47 L500.00,24.47 L500.42,24.47 L500.85,24.47 L501.28,24.47 L501.70,24.47 L502.13,24.47 L502.56,24.47 L502.98,24.48 L503.41,24.48 L503.84,24.48 L504.27,24.48 L504.69,24.48 L505.12,24.48 L505.55,24.48 L505.97,24.48 L506.40,24.48 L506.83,24.48 L507.25,24.48 L507.68,24.48 L508.11,24.48 L508.53,24.48 L508.96,24.48 L509.39,24.48 L509.81,24.48 L510.24,24.48 L510.67,24.48 L511.10,24.48 L511.52,24.48 L511.95,24.48 L512.38,24.49 L512.80,24.49 L513.23,24.49 L513.66,24.49 L514.08,24.49 L514.51,24.49 L514.94,24.49 L515.36,24.49 L515.79,24.49 L516.22,24.49 L516.64,24.49 L517.07,24.49 L517.50,24.49 L517.92,24.49 L518.35,24.49 L518.78,24.49 L519.21,24.49 L519.63,24.49 L520.06,24.49 L520.49,24.49 L520.91,24.49 L521.34,24.49 L521.77,24.49 L522.19,24.49 L522.62,24.49 L523.05,24.49 L523.47,24.49 L523.90,24.49 L524.33,24.49 L524.75,24.49 L525.18,24.49 L525.61,24.49 L526.04,24.49 L526.46,24.49 L526.89,24.49 L527.32,24.49 L527.74,24.49 L528.17,24.49 L528.60,24.49 L529.02,24.50 L529.45,24.50 L529.88,24.50 L530.30,24.50 L530.73,24.50 L531.16,24.50 L531.58,24.50 L532.01,24.50 L532.44,24.50 L532.86,24.50 L533.29,24.50 L533.72,24.50 L534.15,24.50 L534.57,24.50 L535.00,24.50 L535.43,24.50 L535.85,24.50 L536.28,24.50 L536.71,24.50 L537.13,24.50 L537.56,24.50 L537.99,24.50 L538.41,24.50 L538.84,24.50 L539.27,24.50 L539.69,24.50 L540.12,24.50 L540.55,24.50 L540.97,24.50 L541.40,24.50 L541.83,24.50 L542.26,24.50 L542.68,24.50 L543.11,24.50 L543.54,24.50 L543.96,24.50 L544.39,24.50 L544.82,24.50 L545.24,24.50 L545.67,24.50 L546.10,24.50 L546.52,24.50 L546.95,24.50 L547.38,24.50 L547.80,24.50 L548.23,24.50 L548.66,24.50 L549.09,24.50 L549.51,24.50 L549.94,24.50 L550.37,24.50 L550.79,24.50 L551.22,24.50 L551.65,24.50 L552.07,24.50 L552.50,24.50" stroke="#111" stroke-width="0.95" fill="none" stroke-linejoin="round"/>
<path clip-path="url(#cP2)" d="M339.50,24.50 L339.93,24.50 L340.35,24.50 L340.78,24.50 L341.21,24.50 L341.63,24.50 L342.06,24.50 L342.49,24.50 L342.91,24.50 L343.34,24.50 L343.77,24.50 L344.20,24.50 L344.62,24.50 L345.05,24.50 L345.48,24.50 L345.90,24.50 L346.33,24.50 L346.76,24.50 L347.18,24.50 L347.61,24.50 L348.04,24.50 L348.46,24.50 L348.89,24.50 L349.32,24.50 L349.74,24.50 L350.17,24.50 L350.60,24.50 L351.03,24.50 L351.45,24.50 L351.88,24.50 L352.31,24.50 L352.73,24.50 L353.16,24.50 L353.59,24.50 L354.01,24.50 L354.44,24.50 L354.87,24.50 L355.29,24.50 L355.72,24.50 L356.15,24.50 L356.57,24.50 L357.00,24.50 L357.43,24.50 L357.85,24.50 L358.28,24.50 L358.71,24.50 L359.14,24.50 L359.56,24.50 L359.99,24.50 L360.42,24.50 L360.84,24.50 L361.27,24.50 L361.70,24.50 L362.12,24.50 L362.55,24.50 L362.98,24.50 L363.40,24.50 L363.83,24.50 L364.26,24.50 L364.68,24.50 L365.11,24.50 L365.54,24.50 L365.96,24.50 L366.39,24.50 L366.82,24.50 L367.25,24.50 L367.67,24.50 L368.10,24.50 L368.53,24.50 L368.95,24.50 L369.38,24.50 L369.81,24.50 L370.23,24.50 L370.66,24.50 L371.09,24.50 L371.51,24.50 L371.94,24.50 L372.37,24.50 L372.79,24.50 L373.22,24.50 L373.65,24.50 L374.08,24.50 L374.50,24.50 L374.93,24.50 L375.36,24.50 L375.78,24.50 L376.21,24.50 L376.64,24.50 L377.06,24.50 L377.49,24.50 L377.92,24.50 L378.34,24.50 L378.77,24.50 L379.20,24.50 L379.62,24.50 L380.05,24.50 L380.48,24.50 L380.90,24.50 L381.33,24.50 L381.76,24.50 L382.19,24.50 L382.61,24.50 L383.04,24.50 L383.47,24.50 L383.89,24.50 L384.32,24.50 L384.75,24.50 L385.17,24.50 L385.60,24.50 L386.03,24.50 L386.45,24.50 L386.88,24.50 L387.31,24.50 L387.73,24.50 L388.16,24.50 L388.59,24.50 L389.02,24.50 L389.44,24.50 L389.87,24.50 L390.30,24.50 L390.72,24.50 L391.15,24.50 L391.58,24.50 L392.00,24.50 L392.43,24.50 L392.86,24.50 L393.28,24.50 L393.71,24.50 L394.14,24.50 L394.56,24.50 L394.99,24.50 L395.42,24.50 L395.84,24.50 L396.27,24.50 L396.70,24.50 L397.13,24.50 L397.55,24.50 L397.98,24.50 L398.41,24.50 L398.83,24.50 L399.26,24.50 L399.69,24.50 L400.11,24.50 L400.54,24.50 L400.97,24.50 L401.39,24.50 L401.82,24.50 L402.25,24.50 L402.67,24.50 L403.10,24.50 L403.53,24.50 L403.95,24.50 L404.38,24.50 L404.81,24.50 L405.24,24.50 L405.66,24.50 L406.09,24.50 L406.52,24.50 L406.94,24.50 L407.37,24.50 L407.80,24.50 L408.22,24.50 L408.65,24.50 L409.08,24.50 L409.50,24.50 L409.93,24.50 L410.36,24.50 L410.78,24.50 L411.21,24.50 L411.64,24.50 L412.07,24.50 L412.49,24.50 L412.92,24.50 L413.35,24.50 L413.77,24.50 L414.20,24.50 L414.63,24.50 L415.05,24.50 L415.48,24.50 L415.91,24.50 L416.33,24.50 L416.76,24.50 L417.19,24.50 L417.61,24.50 L418.04,24.49 L418.47,24.49 L418.89,24.49 L419.32,24.48 L419.75,24.48 L420.18,24.47 L420.60,24.47 L421.03,24.46 L421.46,24.45 L421.88,24.45 L422.31,24.44 L422.74,24.43 L423.16,24.42 L423.59,24.41 L424.02,24.40 L424.44,24.39 L424.87,24.38 L425.30,24.37 L425.72,24.36 L426.15,24.35 L426.58,24.33 L427.01,24.31 L427.43,24.29 L427.86,24.26 L428.29,24.23 L428.71,24.20 L429.14,24.16 L429.57,24.12 L429.99,24.09 L430.42,24.05 L430.85,24.02 L431.27,23.99 L431.70,23.95 L432.13,23.91 L432.55,23.86 L432.98,23.82 L433.41,23.77 L433.83,23.73 L434.26,23.69 L434.69,23.66 L435.12,23.63 L435.54,23.61 L435.97,23.60 L436.40,23.60 L436.82,23.62 L437.25,23.66 L437.68,23.70 L438.10,23.75 L438.53,23.81 L438.96,23.88 L439.38,23.96 L439.81,24.07 L440.24,24.22 L440.66,24.36 L441.09,24.50 L441.52,24.62 L441.94,24.75 L442.37,24.87 L442.80,24.99 L443.23,25.08 L443.65,25.16 L444.08,25.22 L444.51,25.27 L444.93,25.32 L445.36,25.36 L445.79,25.39 L446.21,25.40 L446.64,25.38 L447.07,25.34 L447.49,25.30 L447.92,25.24 L448.35,25.19 L448.77,25.12 L449.20,25.04 L449.63,24.93 L450.06,24.81 L450.48,24.68 L450.91,24.55 L451.34,24.43 L451.76,24.29 L452.19,24.14 L452.62,24.01 L453.04,23.91 L453.47,23.84 L453.90,23.78 L454.32,23.72 L454.75,23.68 L455.18,23.64 L455.60,23.61 L456.03,23.60 L456.46,23.60 L456.88,23.62 L457.31,23.64 L457.74,23.67 L458.17,23.71 L458.59,23.75 L459.02,23.80 L459.45,23.84 L459.87,23.89 L460.30,23.93 L460.73,23.97 L461.15,24.00 L461.58,24.04 L462.01,24.07 L462.43,24.11 L462.86,24.14 L463.29,24.18 L463.71,24.21 L464.14,24.25 L464.57,24.28 L464.99,24.30 L465.42,24.32 L465.85,24.34 L466.28,24.35 L466.70,24.37 L467.13,24.38 L467.56,24.39 L467.98,24.40 L468.41,24.41 L468.84,24.42 L469.26,24.42 L469.69,24.43 L470.12,24.44 L470.54,24.45 L470.97,24.46 L471.40,24.46 L471.82,24.47 L472.25,24.47 L472.68,24.48 L473.11,24.48 L473.53,24.49 L473.96,24.49 L474.39,24.49 L474.81,24.50 L475.24,24.50 L475.67,24.50 L476.09,24.50 L476.52,24.50 L476.95,24.50 L477.37,24.50 L477.80,24.50 L478.23,24.50 L478.65,24.50 L479.08,24.50 L479.51,24.50 L479.93,24.50 L480.36,24.50 L480.79,24.50 L481.22,24.50 L481.64,24.50 L482.07,24.50 L482.50,24.50 L482.92,24.50 L483.35,24.50 L483.78,24.50 L484.20,24.50 L484.63,24.50 L485.06,24.50 L485.48,24.50 L485.91,24.50 L486.34,24.50 L486.76,24.50 L487.19,24.50 L487.62,24.50 L488.05,24.50 L488.47,24.50 L488.90,24.50 L489.33,24.50 L489.75,24.50 L490.18,24.50 L490.61,24.50 L491.03,24.50 L491.46,24.50 L491.89,24.50 L492.31,24.50 L492.74,24.50 L493.17,24.50 L493.59,24.50 L494.02,24.50 L494.45,24.50 L494.87,24.50 L495.30,24.50 L495.73,24.50 L496.16,24.50 L496.58,24.50 L497.01,24.50 L497.44,24.50 L497.86,24.50 L498.29,24.50 L498.72,24.50 L499.14,24.50 L499.57,24.50 L500.00,24.50 L500.42,24.50 L500.85,24.50 L501.28,24.50 L501.70,24.50 L502.13,24.50 L502.56,24.50 L502.98,24.50 L503.41,24.50 L503.84,24.50 L504.27,24.50 L504.69,24.50 L505.12,24.50 L505.55,24.50 L505.97,24.50 L506.40,24.50 L506.83,24.50 L507.25,24.50 L507.68,24.50 L508.11,24.50 L508.53,24.50 L508.96,24.50 L509.39,24.50 L509.81,24.50 L510.24,24.50 L510.67,24.50 L511.10,24.50 L511.52,24.50 L511.95,24.50 L512.38,24.50 L512.80,24.50 L513.23,24.50 L513.66,24.50 L514.08,24.50 L514.51,24.50 L514.94,24.50 L515.36,24.50 L515.79,24.50 L516.22,24.50 L516.64,24.50 L517.07,24.50 L517.50,24.50 L517.92,24.50 L518.35,24.50 L518.78,24.50 L519.21,24.50 L519.63,24.50 L520.06,24.50 L520.49,24.50 L520.91,24.50 L521.34,24.50 L521.77,24.50 L522.19,24.50 L522.62,24.50 L523.05,24.50 L523.47,24.50 L523.90,24.50 L524.33,24.50 L524.75,24.50 L525.18,24.50 L525.61,24.50 L526.04,24.50 L526.46,24.50 L526.89,24.50 L527.32,24.50 L527.74,24.50 L528.17,24.50 L528.60,24.50 L529.02,24.50 L529.45,24.50 L529.88,24.50 L530.30,24.50 L530.73,24.50 L531.16,24.50 L531.58,24.50 L532.01,24.50 L532.44,24.50 L532.86,24.50 L533.29,24.50 L533.72,24.50 L534.15,24.50 L534.57,24.50 L535.00,24.50 L535.43,24.50 L535.85,24.50 L536.28,24.50 L536.71,24.50 L537.13,24.50 L537.56,24.50 L537.99,24.50 L538.41,24.50 L538.84,24.50 L539.27,24.50 L539.69,24.50 L540.12,24.50 L540.55,24.50 L540.97,24.50 L541.40,24.50 L541.83,24.50 L542.26,24.50 L542.68,24.50 L543.11,24.50 L543.54,24.50 L543.96,24.50 L544.39,24.50 L544.82,24.50 L545.24,24.50 L545.67,24.50 L546.10,24.50 L546.52,24.50 L546.95,24.50 L547.38,24.50 L547.80,24.50 L548.23,24.50 L548.66,24.50 L549.09,24.50 L549.51,24.50 L549.94,24.50 L550.37,24.50 L550.79,24.50 L551.22,24.50 L551.65,24.50 L552.07,24.50 L552.50,24.50" stroke="#f00" stroke-width="0.95" fill="none" stroke-linejoin="round"/>
<text transform="translate(355.31,167.15) scale(1.075,1)" text-anchor="middle" class="ti">-0.06</text>
<text transform="translate(385.74,167.15) scale(1.075,1)" text-anchor="middle" class="ti">-0.04</text>
<text transform="translate(416.17,167.15) scale(1.075,1)" text-anchor="middle" class="ti">-0.02</text>
<text transform="translate(446.60,167.15) scale(1.075,1)" text-anchor="middle" class="ti">0.00</text>
<text transform="translate(477.03,167.15) scale(1.075,1)" text-anchor="middle" class="ti">0.02</text>
<text transform="translate(507.46,167.15) scale(1.075,1)" text-anchor="middle" class="ti">0.04</text>
<text transform="translate(537.89,167.15) scale(1.075,1)" text-anchor="middle" class="ti">0.06</text>
<text transform="translate(446.00,178.75) scale(1.035,1)" text-anchor="middle" class="tr">λ (nm)</text>
<text transform="translate(337.10,153.95) scale(1.075,1)" text-anchor="end" class="ti">-0.06</text>
<text transform="translate(337.10,135.74) scale(1.075,1)" text-anchor="end" class="ti">-0.05</text>
<text transform="translate(337.10,114.22) scale(1.075,1)" text-anchor="end" class="ti">-0.04</text>
<text transform="translate(337.10,92.71) scale(1.075,1)" text-anchor="end" class="ti">-0.03</text>
<text transform="translate(337.10,71.19) scale(1.075,1)" text-anchor="end" class="ti">-0.02</text>
<text transform="translate(337.10,49.68) scale(1.075,1)" text-anchor="end" class="ti">-0.01</text>
<text transform="translate(337.10,28.16) scale(1.075,1)" text-anchor="end" class="ti">0.00</text>
<text transform="translate(337.10,9.80) scale(1.075,1)" text-anchor="end" class="ti">0.01</text>
<text transform="translate(302.90,77.65) rotate(-90) scale(1.075,1)" text-anchor="middle" class="ti">Q/I<tspan class="sub" dy="3.1">c</tspan></text>
<clipPath id="cP3"><rect x="52.07" y="208.15" width="213.05" height="151.29999999999998"/></clipPath>
<rect x="52.07" y="208.65" width="213.05" height="150.29999999999998" fill="none" stroke="#000" stroke-width="1.05"/>
<path d="M59.68,358.95v-1.5M59.68,208.65v1.5M67.29,358.95v-2.8M67.29,208.65v2.8M74.90,358.95v-1.5M74.90,208.65v1.5M82.51,358.95v-1.5M82.51,208.65v1.5M90.11,358.95v-1.5M90.11,208.65v1.5M97.72,358.95v-2.8M97.72,208.65v2.8M105.33,358.95v-1.5M105.33,208.65v1.5M112.94,358.95v-1.5M112.94,208.65v1.5M120.55,358.95v-1.5M120.55,208.65v1.5M128.16,358.95v-2.8M128.16,208.65v2.8M135.77,358.95v-1.5M135.77,208.65v1.5M143.38,358.95v-1.5M143.38,208.65v1.5M150.99,358.95v-1.5M150.99,208.65v1.5M158.59,358.95v-2.8M158.59,208.65v2.8M166.20,358.95v-1.5M166.20,208.65v1.5M173.81,358.95v-1.5M173.81,208.65v1.5M181.42,358.95v-1.5M181.42,208.65v1.5M189.03,358.95v-2.8M189.03,208.65v2.8M196.64,358.95v-1.5M196.64,208.65v1.5M204.25,358.95v-1.5M204.25,208.65v1.5M211.86,358.95v-1.5M211.86,208.65v1.5M219.47,358.95v-2.8M219.47,208.65v2.8M227.08,358.95v-1.5M227.08,208.65v1.5M234.68,358.95v-1.5M234.68,208.65v1.5M242.29,358.95v-1.5M242.29,208.65v1.5M249.90,358.95v-2.8M249.90,208.65v2.8M257.51,358.95v-1.5M257.51,208.65v1.5M52.07,354.66h2.0M265.12,354.66h-2.0M52.07,350.36h2.0M265.12,350.36h-2.0M52.07,346.07h2.0M265.12,346.07h-2.0M52.07,341.77h2.0M265.12,341.77h-2.0M52.07,337.48h4.0M265.12,337.48h-4.0M52.07,333.18h2.0M265.12,333.18h-2.0M52.07,328.89h2.0M265.12,328.89h-2.0M52.07,324.60h2.0M265.12,324.60h-2.0M52.07,320.30h2.0M265.12,320.30h-2.0M52.07,316.01h4.0M265.12,316.01h-4.0M52.07,311.71h2.0M265.12,311.71h-2.0M52.07,307.42h2.0M265.12,307.42h-2.0M52.07,303.12h2.0M265.12,303.12h-2.0M52.07,298.83h2.0M265.12,298.83h-2.0M52.07,294.54h4.0M265.12,294.54h-4.0M52.07,290.24h2.0M265.12,290.24h-2.0M52.07,285.95h2.0M265.12,285.95h-2.0M52.07,281.65h2.0M265.12,281.65h-2.0M52.07,277.36h2.0M265.12,277.36h-2.0M52.07,273.06h4.0M265.12,273.06h-4.0M52.07,268.77h2.0M265.12,268.77h-2.0M52.07,264.48h2.0M265.12,264.48h-2.0M52.07,260.18h2.0M265.12,260.18h-2.0M52.07,255.89h2.0M265.12,255.89h-2.0M52.07,251.59h4.0M265.12,251.59h-4.0M52.07,247.30h2.0M265.12,247.30h-2.0M52.07,243.00h2.0M265.12,243.00h-2.0M52.07,238.71h2.0M265.12,238.71h-2.0M52.07,234.42h2.0M265.12,234.42h-2.0M52.07,230.12h4.0M265.12,230.12h-4.0M52.07,225.83h2.0M265.12,225.83h-2.0M52.07,221.53h2.0M265.12,221.53h-2.0M52.07,217.24h2.0M265.12,217.24h-2.0M52.07,212.94h2.0M265.12,212.94h-2.0" stroke="#000" stroke-width="0.9" fill="none"/>
<path clip-path="url(#cP3)" d="M52.07,337.35 L52.50,337.35 L52.92,337.35 L53.35,337.35 L53.78,337.35 L54.20,337.35 L54.63,337.35 L55.06,337.35 L55.49,337.35 L55.91,337.35 L56.34,337.35 L56.77,337.35 L57.19,337.35 L57.62,337.35 L58.05,337.35 L58.47,337.35 L58.90,337.35 L59.33,337.35 L59.76,337.35 L60.18,337.35 L60.61,337.35 L61.04,337.35 L61.46,337.35 L61.89,337.35 L62.32,337.35 L62.74,337.34 L63.17,337.34 L63.60,337.34 L64.02,337.34 L64.45,337.34 L64.88,337.34 L65.31,337.34 L65.73,337.34 L66.16,337.34 L66.59,337.34 L67.01,337.34 L67.44,337.34 L67.87,337.34 L68.29,337.34 L68.72,337.34 L69.15,337.34 L69.58,337.34 L70.00,337.34 L70.43,337.33 L70.86,337.33 L71.28,337.33 L71.71,337.33 L72.14,337.33 L72.56,337.33 L72.99,337.33 L73.42,337.33 L73.84,337.33 L74.27,337.33 L74.70,337.33 L75.13,337.33 L75.55,337.32 L75.98,337.32 L76.41,337.32 L76.83,337.32 L77.26,337.32 L77.69,337.32 L78.11,337.32 L78.54,337.32 L78.97,337.32 L79.40,337.32 L79.82,337.31 L80.25,337.31 L80.68,337.31 L81.10,337.31 L81.53,337.31 L81.96,337.31 L82.38,337.31 L82.81,337.31 L83.24,337.30 L83.66,337.30 L84.09,337.30 L84.52,337.30 L84.95,337.30 L85.37,337.30 L85.80,337.30 L86.23,337.30 L86.65,337.29 L87.08,337.29 L87.51,337.29 L87.93,337.29 L88.36,337.29 L88.79,337.29 L89.21,337.29 L89.64,337.28 L90.07,337.28 L90.50,337.28 L90.92,337.28 L91.35,337.28 L91.78,337.28 L92.20,337.27 L92.63,337.27 L93.06,337.27 L93.48,337.27 L93.91,337.27 L94.34,337.27 L94.77,337.27 L95.19,337.26 L95.62,337.26 L96.05,337.26 L96.47,337.26 L96.90,337.26 L97.33,337.25 L97.75,337.25 L98.18,337.25 L98.61,337.25 L99.03,337.25 L99.46,337.25 L99.89,337.24 L100.32,337.24 L100.74,337.24 L101.17,337.24 L101.60,337.23 L102.02,337.23 L102.45,337.23 L102.88,337.22 L103.30,337.22 L103.73,337.22 L104.16,337.21 L104.59,337.21 L105.01,337.21 L105.44,337.20 L105.87,337.20 L106.29,337.19 L106.72,337.19 L107.15,337.18 L107.57,337.18 L108.00,337.17 L108.43,337.16 L108.85,337.16 L109.28,337.15 L109.71,337.14 L110.14,337.14 L110.56,337.13 L110.99,337.12 L111.42,337.11 L111.84,337.11 L112.27,337.10 L112.70,337.09 L113.12,337.08 L113.55,337.07 L113.98,337.06 L114.41,337.05 L114.83,337.04 L115.26,337.03 L115.69,337.02 L116.11,337.01 L116.54,337.00 L116.97,336.98 L117.39,336.97 L117.82,336.96 L118.25,336.94 L118.67,336.92 L119.10,336.90 L119.53,336.86 L119.96,336.82 L120.38,336.78 L120.81,336.73 L121.24,336.67 L121.66,336.61 L122.09,336.55 L122.52,336.48 L122.94,336.41 L123.37,336.33 L123.80,336.25 L124.23,336.17 L124.65,336.08 L125.08,335.99 L125.51,335.90 L125.93,335.80 L126.36,335.68 L126.79,335.55 L127.21,335.41 L127.64,335.25 L128.07,335.07 L128.49,334.88 L128.92,334.68 L129.35,334.46 L129.78,334.23 L130.20,333.98 L130.63,333.68 L131.06,333.34 L131.48,332.95 L131.91,332.51 L132.34,332.03 L132.76,331.51 L133.19,330.93 L133.62,330.22 L134.05,329.39 L134.47,328.47 L134.90,327.50 L135.33,326.50 L135.75,325.43 L136.18,324.21 L136.61,322.81 L137.03,321.16 L137.46,319.22 L137.89,316.95 L138.31,314.25 L138.74,311.33 L139.17,308.18 L139.60,304.58 L140.02,300.16 L140.45,295.23 L140.88,289.81 L141.30,284.14 L141.73,278.59 L142.16,273.44 L142.58,268.46 L143.01,263.64 L143.44,258.98 L143.87,254.50 L144.29,250.27 L144.72,246.17 L145.15,242.12 L145.57,238.26 L146.00,234.74 L146.43,231.82 L146.85,229.52 L147.28,227.89 L147.71,226.95 L148.13,226.60 L148.56,227.02 L148.99,228.35 L149.42,230.72 L149.84,233.94 L150.27,237.63 L150.70,241.70 L151.12,245.85 L151.55,249.53 L151.98,253.02 L152.40,260.10 L152.83,272.30 L153.26,281.90 L153.69,290.04 L154.11,297.19 L154.54,303.29 L154.97,308.57 L155.39,313.26 L155.82,317.69 L156.25,322.05 L156.67,325.94 L157.10,329.69 L157.53,333.80 L157.95,338.22 L158.38,340.90 L158.81,339.92 L159.24,336.21 L159.66,331.95 L160.09,327.95 L160.52,324.31 L160.94,320.14 L161.37,315.73 L161.80,311.23 L162.22,306.30 L162.65,300.70 L163.08,294.13 L163.50,286.54 L163.93,277.96 L164.36,266.80 L164.79,255.97 L165.21,251.32 L165.64,248.03 L166.07,244.01 L166.49,239.85 L166.92,235.93 L167.35,232.44 L167.77,229.56 L168.20,227.64 L168.63,226.75 L169.06,226.70 L169.48,227.30 L169.91,228.54 L170.34,230.47 L170.76,233.05 L171.19,236.25 L171.62,239.94 L172.04,243.91 L172.47,247.99 L172.90,252.13 L173.32,256.47 L173.75,261.04 L174.18,265.77 L174.61,270.66 L175.03,275.69 L175.46,281.02 L175.89,286.67 L176.31,292.28 L176.74,297.47 L177.17,302.23 L177.59,306.26 L178.02,309.63 L178.45,312.65 L178.88,315.49 L179.30,318.01 L179.73,320.12 L180.16,321.92 L180.58,323.47 L181.01,324.77 L181.44,325.92 L181.86,326.95 L182.29,327.94 L182.72,328.89 L183.14,329.77 L183.57,330.55 L184.00,331.20 L184.43,331.74 L184.85,332.25 L185.28,332.71 L185.71,333.13 L186.13,333.50 L186.56,333.82 L186.99,334.09 L187.41,334.33 L187.84,334.56 L188.27,334.77 L188.70,334.97 L189.12,335.15 L189.55,335.32 L189.98,335.47 L190.40,335.61 L190.83,335.74 L191.26,335.84 L191.68,335.94 L192.11,336.03 L192.54,336.12 L192.96,336.20 L193.39,336.29 L193.82,336.36 L194.25,336.44 L194.67,336.51 L195.10,336.58 L195.53,336.64 L195.95,336.70 L196.38,336.75 L196.81,336.80 L197.23,336.84 L197.66,336.88 L198.09,336.91 L198.52,336.93 L198.94,336.95 L199.37,336.96 L199.80,336.98 L200.22,336.99 L200.65,337.00 L201.08,337.01 L201.50,337.02 L201.93,337.03 L202.36,337.05 L202.78,337.06 L203.21,337.07 L203.64,337.08 L204.07,337.08 L204.49,337.09 L204.92,337.10 L205.35,337.11 L205.77,337.12 L206.20,337.13 L206.63,337.13 L207.05,337.14 L207.48,337.15 L207.91,337.15 L208.34,337.16 L208.76,337.17 L209.19,337.17 L209.62,337.18 L210.04,337.18 L210.47,337.19 L210.90,337.19 L211.32,337.20 L211.75,337.20 L212.18,337.21 L212.60,337.21 L213.03,337.22 L213.46,337.22 L213.89,337.22 L214.31,337.23 L214.74,337.23 L215.17,337.23 L215.59,337.23 L216.02,337.24 L216.45,337.24 L216.87,337.24 L217.30,337.24 L217.73,337.25 L218.16,337.25 L218.58,337.25 L219.01,337.25 L219.44,337.25 L219.86,337.26 L220.29,337.26 L220.72,337.26 L221.14,337.26 L221.57,337.26 L222.00,337.26 L222.42,337.27 L222.85,337.27 L223.28,337.27 L223.71,337.27 L224.13,337.27 L224.56,337.27 L224.99,337.28 L225.41,337.28 L225.84,337.28 L226.27,337.28 L226.69,337.28 L227.12,337.28 L227.55,337.28 L227.98,337.29 L228.40,337.29 L228.83,337.29 L229.26,337.29 L229.68,337.29 L230.11,337.29 L230.54,337.29 L230.96,337.30 L231.39,337.30 L231.82,337.30 L232.24,337.30 L232.67,337.30 L233.10,337.30 L233.53,337.30 L233.95,337.31 L234.38,337.31 L234.81,337.31 L235.23,337.31 L235.66,337.31 L236.09,337.31 L236.51,337.31 L236.94,337.31 L237.37,337.31 L237.79,337.32 L238.22,337.32 L238.65,337.32 L239.08,337.32 L239.50,337.32 L239.93,337.32 L240.36,337.32 L240.78,337.32 L241.21,337.32 L241.64,337.32 L242.06,337.33 L242.49,337.33 L242.92,337.33 L243.35,337.33 L243.77,337.33 L244.20,337.33 L244.63,337.33 L245.05,337.33 L245.48,337.33 L245.91,337.33 L246.33,337.33 L246.76,337.33 L247.19,337.34 L247.61,337.34 L248.04,337.34 L248.47,337.34 L248.90,337.34 L249.32,337.34 L249.75,337.34 L250.18,337.34 L250.60,337.34 L251.03,337.34 L251.46,337.34 L251.88,337.34 L252.31,337.34 L252.74,337.34 L253.17,337.34 L253.59,337.34 L254.02,337.34 L254.45,337.35 L254.87,337.35 L255.30,337.35 L255.73,337.35 L256.15,337.35 L256.58,337.35 L257.01,337.35 L257.43,337.35 L257.86,337.35 L258.29,337.35 L258.72,337.35 L259.14,337.35 L259.57,337.35 L260.00,337.35 L260.42,337.35 L260.85,337.35 L261.28,337.35 L261.70,337.35 L262.13,337.35 L262.56,337.35 L262.99,337.35 L263.41,337.35 L263.84,337.35 L264.27,337.35 L264.69,337.35 L265.12,337.35" stroke="#111" stroke-width="0.95" fill="none" stroke-linejoin="round"/>
<path clip-path="url(#cP3)" d="M52.07,337.40 L52.50,337.40 L52.92,337.40 L53.35,337.40 L53.78,337.40 L54.20,337.40 L54.63,337.40 L55.06,337.40 L55.49,337.40 L55.91,337.40 L56.34,337.40 L56.77,337.40 L57.19,337.40 L57.62,337.40 L58.05,337.40 L58.47,337.40 L58.90,337.40 L59.33,337.40 L59.76,337.40 L60.18,337.40 L60.61,337.40 L61.04,337.40 L61.46,337.40 L61.89,337.40 L62.32,337.40 L62.74,337.40 L63.17,337.40 L63.60,337.40 L64.02,337.40 L64.45,337.40 L64.88,337.40 L65.31,337.40 L65.73,337.40 L66.16,337.40 L66.59,337.40 L67.01,337.40 L67.44,337.40 L67.87,337.40 L68.29,337.40 L68.72,337.40 L69.15,337.40 L69.58,337.40 L70.00,337.40 L70.43,337.40 L70.86,337.40 L71.28,337.40 L71.71,337.40 L72.14,337.40 L72.56,337.40 L72.99,337.40 L73.42,337.40 L73.84,337.40 L74.27,337.40 L74.70,337.40 L75.13,337.40 L75.55,337.40 L75.98,337.40 L76.41,337.40 L76.83,337.40 L77.26,337.40 L77.69,337.40 L78.11,337.40 L78.54,337.40 L78.97,337.40 L79.40,337.40 L79.82,337.40 L80.25,337.40 L80.68,337.40 L81.10,337.40 L81.53,337.40 L81.96,337.40 L82.38,337.40 L82.81,337.40 L83.24,337.40 L83.66,337.40 L84.09,337.40 L84.52,337.40 L84.95,337.40 L85.37,337.40 L85.80,337.40 L86.23,337.40 L86.65,337.40 L87.08,337.40 L87.51,337.40 L87.93,337.40 L88.36,337.40 L88.79,337.40 L89.21,337.40 L89.64,337.40 L90.07,337.40 L90.50,337.40 L90.92,337.40 L91.35,337.40 L91.78,337.40 L92.20,337.40 L92.63,337.40 L93.06,337.40 L93.48,337.40 L93.91,337.40 L94.34,337.40 L94.77,337.40 L95.19,337.40 L95.62,337.40 L96.05,337.40 L96.47,337.40 L96.90,337.40 L97.33,337.40 L97.75,337.40 L98.18,337.40 L98.61,337.40 L99.03,337.40 L99.46,337.40 L99.89,337.40 L100.32,337.40 L100.74,337.40 L101.17,337.40 L101.60,337.40 L102.02,337.40 L102.45,337.40 L102.88,337.40 L103.30,337.40 L103.73,337.40 L104.16,337.40 L104.59,337.40 L105.01,337.40 L105.44,337.40 L105.87,337.40 L106.29,337.40 L106.72,337.40 L107.15,337.40 L107.57,337.40 L108.00,337.40 L108.43,337.40 L108.85,337.40 L109.28,337.40 L109.71,337.40 L110.14,337.40 L110.56,337.40 L110.99,337.40 L111.42,337.40 L111.84,337.40 L112.27,337.40 L112.70,337.40 L113.12,337.40 L113.55,337.40 L113.98,337.40 L114.41,337.40 L114.83,337.40 L115.26,337.40 L115.69,337.40 L116.11,337.40 L116.54,337.40 L116.97,337.40 L117.39,337.40 L117.82,337.40 L118.25,337.40 L118.67,337.40 L119.10,337.40 L119.53,337.40 L119.96,337.40 L120.38,337.40 L120.81,337.40 L121.24,337.40 L121.66,337.40 L122.09,337.40 L122.52,337.40 L122.94,337.40 L123.37,337.39 L123.80,337.39 L124.23,337.39 L124.65,337.39 L125.08,337.39 L125.51,337.39 L125.93,337.39 L126.36,337.39 L126.79,337.38 L127.21,337.38 L127.64,337.38 L128.07,337.38 L128.49,337.38 L128.92,337.37 L129.35,337.37 L129.78,337.37 L130.20,337.37 L130.63,337.36 L131.06,337.36 L131.48,337.36 L131.91,337.35 L132.34,337.35 L132.76,337.35 L133.19,337.34 L133.62,337.33 L134.05,337.31 L134.47,337.29 L134.90,337.27 L135.33,337.24 L135.75,337.21 L136.18,337.17 L136.61,337.14 L137.03,337.09 L137.46,337.05 L137.89,337.00 L138.31,336.95 L138.74,336.87 L139.17,336.76 L139.60,336.62 L140.02,336.45 L140.45,336.26 L140.88,336.06 L141.30,335.84 L141.73,335.62 L142.16,335.38 L142.58,335.12 L143.01,334.81 L143.44,334.48 L143.87,334.13 L144.29,333.77 L144.72,333.41 L145.15,333.05 L145.57,332.65 L146.00,332.24 L146.43,331.83 L146.85,331.42 L147.28,331.04 L147.71,330.69 L148.13,330.36 L148.56,330.04 L148.99,329.78 L149.42,329.63 L149.84,329.51 L150.27,329.42 L150.70,329.40 L151.12,329.45 L151.55,329.56 L151.98,329.69 L152.40,329.90 L152.83,330.20 L153.26,330.55 L153.69,330.89 L154.11,331.30 L154.54,331.73 L154.97,332.16 L155.39,332.54 L155.82,332.83 L156.25,333.03 L156.67,333.19 L157.10,333.32 L157.53,333.40 L157.95,333.46 L158.38,333.50 L158.81,333.49 L159.24,333.44 L159.66,333.37 L160.09,333.27 L160.52,333.12 L160.94,332.95 L161.37,332.72 L161.80,332.38 L162.22,331.97 L162.65,331.54 L163.08,331.11 L163.50,330.73 L163.93,330.39 L164.36,330.06 L164.79,329.79 L165.21,329.63 L165.64,329.51 L166.07,329.42 L166.49,329.40 L166.92,329.45 L167.35,329.56 L167.77,329.69 L168.20,329.89 L168.63,330.18 L169.06,330.51 L169.48,330.84 L169.91,331.21 L170.34,331.60 L170.76,332.01 L171.19,332.43 L171.62,332.83 L172.04,333.21 L172.47,333.57 L172.90,333.93 L173.32,334.29 L173.75,334.63 L174.18,334.95 L174.61,335.24 L175.03,335.49 L175.46,335.72 L175.89,335.94 L176.31,336.15 L176.74,336.35 L177.17,336.53 L177.59,336.69 L178.02,336.82 L178.45,336.91 L178.88,336.97 L179.30,337.02 L179.73,337.07 L180.16,337.11 L180.58,337.15 L181.01,337.19 L181.44,337.22 L181.86,337.25 L182.29,337.28 L182.72,337.30 L183.14,337.32 L183.57,337.33 L184.00,337.34 L184.43,337.35 L184.85,337.35 L185.28,337.36 L185.71,337.36 L186.13,337.36 L186.56,337.36 L186.99,337.37 L187.41,337.37 L187.84,337.37 L188.27,337.37 L188.70,337.38 L189.12,337.38 L189.55,337.38 L189.98,337.38 L190.40,337.38 L190.83,337.39 L191.26,337.39 L191.68,337.39 L192.11,337.39 L192.54,337.39 L192.96,337.39 L193.39,337.39 L193.82,337.40 L194.25,337.40 L194.67,337.40 L195.10,337.40 L195.53,337.40 L195.95,337.40 L196.38,337.40 L196.81,337.40 L197.23,337.40 L197.66,337.40 L198.09,337.40 L198.52,337.40 L198.94,337.40 L199.37,337.40 L199.80,337.40 L200.22,337.40 L200.65,337.40 L201.08,337.40 L201.50,337.40 L201.93,337.40 L202.36,337.40 L202.78,337.40 L203.21,337.40 L203.64,337.40 L204.07,337.40 L204.49,337.40 L204.92,337.40 L205.35,337.40 L205.77,337.40 L206.20,337.40 L206.63,337.40 L207.05,337.40 L207.48,337.40 L207.91,337.40 L208.34,337.40 L208.76,337.40 L209.19,337.40 L209.62,337.40 L210.04,337.40 L210.47,337.40 L210.90,337.40 L211.32,337.40 L211.75,337.40 L212.18,337.40 L212.60,337.40 L213.03,337.40 L213.46,337.40 L213.89,337.40 L214.31,337.40 L214.74,337.40 L215.17,337.40 L215.59,337.40 L216.02,337.40 L216.45,337.40 L216.87,337.40 L217.30,337.40 L217.73,337.40 L218.16,337.40 L218.58,337.40 L219.01,337.40 L219.44,337.40 L219.86,337.40 L220.29,337.40 L220.72,337.40 L221.14,337.40 L221.57,337.40 L222.00,337.40 L222.42,337.40 L222.85,337.40 L223.28,337.40 L223.71,337.40 L224.13,337.40 L224.56,337.40 L224.99,337.40 L225.41,337.40 L225.84,337.40 L226.27,337.40 L226.69,337.40 L227.12,337.40 L227.55,337.40 L227.98,337.40 L228.40,337.40 L228.83,337.40 L229.26,337.40 L229.68,337.40 L230.11,337.40 L230.54,337.40 L230.96,337.40 L231.39,337.40 L231.82,337.40 L232.24,337.40 L232.67,337.40 L233.10,337.40 L233.53,337.40 L233.95,337.40 L234.38,337.40 L234.81,337.40 L235.23,337.40 L235.66,337.40 L236.09,337.40 L236.51,337.40 L236.94,337.40 L237.37,337.40 L237.79,337.40 L238.22,337.40 L238.65,337.40 L239.08,337.40 L239.50,337.40 L239.93,337.40 L240.36,337.40 L240.78,337.40 L241.21,337.40 L241.64,337.40 L242.06,337.40 L242.49,337.40 L242.92,337.40 L243.35,337.40 L243.77,337.40 L244.20,337.40 L244.63,337.40 L245.05,337.40 L245.48,337.40 L245.91,337.40 L246.33,337.40 L246.76,337.40 L247.19,337.40 L247.61,337.40 L248.04,337.40 L248.47,337.40 L248.90,337.40 L249.32,337.40 L249.75,337.40 L250.18,337.40 L250.60,337.40 L251.03,337.40 L251.46,337.40 L251.88,337.40 L252.31,337.40 L252.74,337.40 L253.17,337.40 L253.59,337.40 L254.02,337.40 L254.45,337.40 L254.87,337.40 L255.30,337.40 L255.73,337.40 L256.15,337.40 L256.58,337.40 L257.01,337.40 L257.43,337.40 L257.86,337.40 L258.29,337.40 L258.72,337.40 L259.14,337.40 L259.57,337.40 L260.00,337.40 L260.42,337.40 L260.85,337.40 L261.28,337.40 L261.70,337.40 L262.13,337.40 L262.56,337.40 L262.99,337.40 L263.41,337.40 L263.84,337.40 L264.27,337.40 L264.69,337.40 L265.12,337.40" stroke="#f00" stroke-width="0.95" fill="none" stroke-linejoin="round"/>
<text transform="translate(67.89,372.55) scale(1.075,1)" text-anchor="middle" class="ti">-0.06</text>
<text transform="translate(98.32,372.55) scale(1.075,1)" text-anchor="middle" class="ti">-0.04</text>
<text transform="translate(128.76,372.55) scale(1.075,1)" text-anchor="middle" class="ti">-0.02</text>
<text transform="translate(159.19,372.55) scale(1.075,1)" text-anchor="middle" class="ti">0.00</text>
<text transform="translate(189.63,372.55) scale(1.075,1)" text-anchor="middle" class="ti">0.02</text>
<text transform="translate(220.07,372.55) scale(1.075,1)" text-anchor="middle" class="ti">0.04</text>
<text transform="translate(250.50,372.55) scale(1.075,1)" text-anchor="middle" class="ti">0.06</text>
<text transform="translate(158.59,384.15) scale(1.035,1)" text-anchor="middle" class="tr">λ (nm)</text>
<text transform="translate(49.67,359.35) scale(1.075,1)" text-anchor="end" class="ti">-0.005</text>
<text transform="translate(49.67,341.13) scale(1.075,1)" text-anchor="end" class="ti">0.000</text>
<text transform="translate(49.67,319.66) scale(1.075,1)" text-anchor="end" class="ti">0.005</text>
<text transform="translate(49.67,298.19) scale(1.075,1)" text-anchor="end" class="ti">0.010</text>
<text transform="translate(49.67,276.71) scale(1.075,1)" text-anchor="end" class="ti">0.015</text>
<text transform="translate(49.67,255.24) scale(1.075,1)" text-anchor="end" class="ti">0.020</text>
<text transform="translate(49.67,233.77) scale(1.075,1)" text-anchor="end" class="ti">0.025</text>
<text transform="translate(49.67,214.70) scale(1.075,1)" text-anchor="end" class="ti">0.030</text>
<text transform="translate(9.87,283.20) rotate(-90) scale(1.075,1)" text-anchor="middle" class="ti">U/I<tspan class="sub" dy="3.1">c</tspan></text>
<clipPath id="cP4"><rect x="339.5" y="208.05" width="213.0" height="151.39999999999998"/></clipPath>
<rect x="339.5" y="208.55" width="213.0" height="150.39999999999998" fill="none" stroke="#000" stroke-width="1.05"/>
<path d="M347.11,358.95v-1.5M347.11,208.55v1.5M354.71,358.95v-2.8M354.71,208.55v2.8M362.32,358.95v-1.5M362.32,208.55v1.5M369.93,358.95v-1.5M369.93,208.55v1.5M377.54,358.95v-1.5M377.54,208.55v1.5M385.14,358.95v-2.8M385.14,208.55v2.8M392.75,358.95v-1.5M392.75,208.55v1.5M400.36,358.95v-1.5M400.36,208.55v1.5M407.96,358.95v-1.5M407.96,208.55v1.5M415.57,358.95v-2.8M415.57,208.55v2.8M423.18,358.95v-1.5M423.18,208.55v1.5M430.79,358.95v-1.5M430.79,208.55v1.5M438.39,358.95v-1.5M438.39,208.55v1.5M446.00,358.95v-2.8M446.00,208.55v2.8M453.61,358.95v-1.5M453.61,208.55v1.5M461.21,358.95v-1.5M461.21,208.55v1.5M468.82,358.95v-1.5M468.82,208.55v1.5M476.43,358.95v-2.8M476.43,208.55v2.8M484.04,358.95v-1.5M484.04,208.55v1.5M491.64,358.95v-1.5M491.64,208.55v1.5M499.25,358.95v-1.5M499.25,208.55v1.5M506.86,358.95v-2.8M506.86,208.55v2.8M514.46,358.95v-1.5M514.46,208.55v1.5M522.07,358.95v-1.5M522.07,208.55v1.5M529.68,358.95v-1.5M529.68,208.55v1.5M537.29,358.95v-2.8M537.29,208.55v2.8M544.89,358.95v-1.5M544.89,208.55v1.5M339.5,356.44h2.0M552.5,356.44h-2.0M339.5,353.94h2.0M552.5,353.94h-2.0M339.5,351.43h2.0M552.5,351.43h-2.0M339.5,348.92h2.0M552.5,348.92h-2.0M339.5,346.42h2.0M552.5,346.42h-2.0M339.5,343.91h2.0M552.5,343.91h-2.0M339.5,341.40h2.0M552.5,341.40h-2.0M339.5,338.90h2.0M552.5,338.90h-2.0M339.5,336.39h2.0M552.5,336.39h-2.0M339.5,333.88h4.0M552.5,333.88h-4.0M339.5,331.38h2.0M552.5,331.38h-2.0M339.5,328.87h2.0M552.5,328.87h-2.0M339.5,326.36h2.0M552.5,326.36h-2.0M339.5,323.86h2.0M552.5,323.86h-2.0M339.5,321.35h2.0M552.5,321.35h-2.0M339.5,318.84h2.0M552.5,318.84h-2.0M339.5,316.34h2.0M552.5,316.34h-2.0M339.5,313.83h2.0M552.5,313.83h-2.0M339.5,311.32h2.0M552.5,311.32h-2.0M339.5,308.82h4.0M552.5,308.82h-4.0M339.5,306.31h2.0M552.5,306.31h-2.0M339.5,303.80h2.0M552.5,303.80h-2.0M339.5,301.30h2.0M552.5,301.30h-2.0M339.5,298.79h2.0M552.5,298.79h-2.0M339.5,296.28h2.0M552.5,296.28h-2.0M339.5,293.78h2.0M552.5,293.78h-2.0M339.5,291.27h2.0M552.5,291.27h-2.0M339.5,288.76h2.0M552.5,288.76h-2.0M339.5,286.26h2.0M552.5,286.26h-2.0M339.5,283.75h4.0M552.5,283.75h-4.0M339.5,281.24h2.0M552.5,281.24h-2.0M339.5,278.74h2.0M552.5,278.74h-2.0M339.5,276.23h2.0M552.5,276.23h-2.0M339.5,273.72h2.0M552.5,273.72h-2.0M339.5,271.22h2.0M552.5,271.22h-2.0M339.5,268.71h2.0M552.5,268.71h-2.0M339.5,266.20h2.0M552.5,266.20h-2.0M339.5,263.70h2.0M552.5,263.70h-2.0M339.5,261.19h2.0M552.5,261.19h-2.0M339.5,258.68h4.0M552.5,258.68h-4.0M339.5,256.18h2.0M552.5,256.18h-2.0M339.5,253.67h2.0M552.5,253.67h-2.0M339.5,251.16h2.0M552.5,251.16h-2.0M339.5,248.66h2.0M552.5,248.66h-2.0M339.5,246.15h2.0M552.5,246.15h-2.0M339.5,243.64h2.0M552.5,243.64h-2.0M339.5,241.14h2.0M552.5,241.14h-2.0M339.5,238.63h2.0M552.5,238.63h-2.0M339.5,236.12h2.0M552.5,236.12h-2.0M339.5,233.62h4.0M552.5,233.62h-4.0M339.5,231.11h2.0M552.5,231.11h-2.0M339.5,228.60h2.0M552.5,228.60h-2.0M339.5,226.10h2.0M552.5,226.10h-2.0M339.5,223.59h2.0M552.5,223.59h-2.0M339.5,221.08h2.0M552.5,221.08h-2.0M339.5,218.58h2.0M552.5,218.58h-2.0M339.5,216.07h2.0M552.5,216.07h-2.0M339.5,213.56h2.0M552.5,213.56h-2.0M339.5,211.06h2.0M552.5,211.06h-2.0" stroke="#000" stroke-width="0.9" fill="none"/>
<path clip-path="url(#cP4)" d="M339.50,283.85 L339.93,283.85 L340.35,283.85 L340.78,283.85 L341.21,283.85 L341.63,283.85 L342.06,283.85 L342.49,283.85 L342.91,283.85 L343.34,283.85 L343.77,283.85 L344.20,283.85 L344.62,283.85 L345.05,283.85 L345.48,283.85 L345.90,283.85 L346.33,283.85 L346.76,283.85 L347.18,283.85 L347.61,283.85 L348.04,283.85 L348.46,283.85 L348.89,283.85 L349.32,283.85 L349.74,283.85 L350.17,283.84 L350.60,283.84 L351.03,283.84 L351.45,283.84 L351.88,283.84 L352.31,283.84 L352.73,283.84 L353.16,283.84 L353.59,283.84 L354.01,283.84 L354.44,283.84 L354.87,283.84 L355.29,283.84 L355.72,283.84 L356.15,283.84 L356.57,283.84 L357.00,283.84 L357.43,283.84 L357.85,283.83 L358.28,283.83 L358.71,283.83 L359.14,283.83 L359.56,283.83 L359.99,283.83 L360.42,283.83 L360.84,283.83 L361.27,283.83 L361.70,283.83 L362.12,283.83 L362.55,283.83 L362.98,283.82 L363.40,283.82 L363.83,283.82 L364.26,283.82 L364.68,283.82 L365.11,283.82 L365.54,283.82 L365.96,283.82 L366.39,283.82 L366.82,283.82 L367.25,283.81 L367.67,283.81 L368.10,283.81 L368.53,283.81 L368.95,283.81 L369.38,283.81 L369.81,283.81 L370.23,283.81 L370.66,283.80 L371.09,283.80 L371.51,283.80 L371.94,283.80 L372.37,283.80 L372.79,283.80 L373.22,283.80 L373.65,283.80 L374.08,283.79 L374.50,283.79 L374.93,283.79 L375.36,283.79 L375.78,283.79 L376.21,283.79 L376.64,283.79 L377.06,283.78 L377.49,283.78 L377.92,283.78 L378.34,283.78 L378.77,283.78 L379.20,283.78 L379.62,283.78 L380.05,283.77 L380.48,283.77 L380.90,283.77 L381.33,283.77 L381.76,283.77 L382.19,283.77 L382.61,283.76 L383.04,283.76 L383.47,283.76 L383.89,283.76 L384.32,283.76 L384.75,283.76 L385.17,283.75 L385.60,283.75 L386.03,283.75 L386.45,283.75 L386.88,283.75 L387.31,283.74 L387.73,283.74 L388.16,283.74 L388.59,283.74 L389.02,283.73 L389.44,283.73 L389.87,283.73 L390.30,283.72 L390.72,283.72 L391.15,283.72 L391.58,283.71 L392.00,283.71 L392.43,283.71 L392.86,283.70 L393.28,283.70 L393.71,283.69 L394.14,283.69 L394.56,283.68 L394.99,283.68 L395.42,283.67 L395.84,283.66 L396.27,283.66 L396.70,283.65 L397.13,283.65 L397.55,283.64 L397.98,283.63 L398.41,283.62 L398.83,283.62 L399.26,283.61 L399.69,283.60 L400.11,283.59 L400.54,283.58 L400.97,283.58 L401.39,283.57 L401.82,283.56 L402.25,283.55 L402.67,283.54 L403.10,283.53 L403.53,283.52 L403.95,283.51 L404.38,283.50 L404.81,283.48 L405.24,283.47 L405.66,283.46 L406.09,283.45 L406.52,283.43 L406.94,283.42 L407.37,283.40 L407.80,283.37 L408.22,283.34 L408.65,283.31 L409.08,283.28 L409.50,283.24 L409.93,283.21 L410.36,283.16 L410.78,283.12 L411.21,283.07 L411.64,283.03 L412.07,282.97 L412.49,282.92 L412.92,282.87 L413.35,282.81 L413.77,282.74 L414.20,282.66 L414.63,282.56 L415.05,282.46 L415.48,282.35 L415.91,282.24 L416.33,282.11 L416.76,281.98 L417.19,281.84 L417.61,281.68 L418.04,281.50 L418.47,281.30 L418.89,281.07 L419.32,280.83 L419.75,280.55 L420.18,280.23 L420.60,279.85 L421.03,279.42 L421.46,278.94 L421.88,278.38 L422.31,277.70 L422.74,276.91 L423.16,276.02 L423.59,274.92 L424.02,273.60 L424.44,272.14 L424.87,270.65 L425.30,269.11 L425.72,267.46 L426.15,265.82 L426.58,264.26 L427.01,262.74 L427.43,261.21 L427.86,259.65 L428.29,258.08 L428.71,256.49 L429.14,254.83 L429.57,253.05 L429.99,251.08 L430.42,249.00 L430.85,246.95 L431.27,245.03 L431.70,243.17 L432.13,241.35 L432.55,239.54 L432.98,237.72 L433.41,235.89 L433.83,234.16 L434.26,232.58 L434.69,231.08 L435.12,229.73 L435.54,228.64 L435.97,227.84 L436.40,227.50 L436.82,227.49 L437.25,227.80 L437.68,228.37 L438.10,229.17 L438.53,230.28 L438.96,231.66 L439.38,233.29 L439.81,235.33 L440.24,237.64 L440.66,240.12 L441.09,242.88 L441.52,245.83 L441.94,249.05 L442.37,252.34 L442.80,255.48 L443.23,258.59 L443.65,261.80 L444.08,265.03 L444.51,268.39 L444.93,272.11 L445.36,276.28 L445.79,280.86 L446.21,285.72 L446.64,290.38 L447.07,294.66 L447.49,298.47 L447.92,301.90 L448.35,305.14 L448.77,308.37 L449.20,311.49 L449.63,314.62 L450.06,317.87 L450.48,321.14 L450.91,324.14 L451.34,326.96 L451.76,329.49 L452.19,331.85 L452.62,333.97 L453.04,335.68 L453.47,337.12 L453.90,338.30 L454.32,339.17 L454.75,339.79 L455.18,340.17 L455.60,340.23 L456.03,339.98 L456.46,339.29 L456.88,338.23 L457.31,336.86 L457.74,335.26 L458.17,333.59 L458.59,331.74 L459.02,329.76 L459.45,327.77 L459.87,325.82 L460.30,323.87 L460.73,321.89 L461.15,319.89 L461.58,317.82 L462.01,315.75 L462.43,313.77 L462.86,311.88 L463.29,310.04 L463.71,308.22 L464.14,306.42 L464.57,304.63 L464.99,302.88 L465.42,301.16 L465.85,299.46 L466.28,297.81 L466.70,296.27 L467.13,294.81 L467.56,293.50 L467.98,292.39 L468.41,291.37 L468.84,290.48 L469.26,289.75 L469.69,289.15 L470.12,288.62 L470.54,288.15 L470.97,287.72 L471.40,287.34 L471.82,286.98 L472.25,286.66 L472.68,286.37 L473.11,286.12 L473.53,285.89 L473.96,285.67 L474.39,285.49 L474.81,285.33 L475.24,285.19 L475.67,285.06 L476.09,284.95 L476.52,284.85 L476.95,284.77 L477.37,284.70 L477.80,284.64 L478.23,284.58 L478.65,284.52 L479.08,284.48 L479.51,284.43 L479.93,284.39 L480.36,284.35 L480.79,284.32 L481.22,284.29 L481.64,284.26 L482.07,284.23 L482.50,284.20 L482.92,284.18 L483.35,284.15 L483.78,284.13 L484.20,284.11 L484.63,284.09 L485.06,284.07 L485.48,284.06 L485.91,284.05 L486.34,284.05 L486.76,284.04 L487.19,284.03 L487.62,284.03 L488.05,284.02 L488.47,284.02 L488.90,284.01 L489.33,284.01 L489.75,284.00 L490.18,284.00 L490.61,283.99 L491.03,283.99 L491.46,283.98 L491.89,283.98 L492.31,283.97 L492.74,283.97 L493.17,283.96 L493.59,283.96 L494.02,283.96 L494.45,283.95 L494.87,283.95 L495.30,283.95 L495.73,283.94 L496.16,283.94 L496.58,283.94 L497.01,283.94 L497.44,283.93 L497.86,283.93 L498.29,283.93 L498.72,283.93 L499.14,283.92 L499.57,283.92 L500.00,283.92 L500.42,283.92 L500.85,283.92 L501.28,283.91 L501.70,283.91 L502.13,283.91 L502.56,283.91 L502.98,283.91 L503.41,283.91 L503.84,283.91 L504.27,283.90 L504.69,283.90 L505.12,283.90 L505.55,283.90 L505.97,283.90 L506.40,283.90 L506.83,283.90 L507.25,283.90 L507.68,283.90 L508.11,283.90 L508.53,283.89 L508.96,283.89 L509.39,283.89 L509.81,283.89 L510.24,283.89 L510.67,283.89 L511.10,283.89 L511.52,283.89 L511.95,283.89 L512.38,283.89 L512.80,283.89 L513.23,283.89 L513.66,283.89 L514.08,283.88 L514.51,283.88 L514.94,283.88 L515.36,283.88 L515.79,283.88 L516.22,283.88 L516.64,283.88 L517.07,283.88 L517.50,283.88 L517.92,283.88 L518.35,283.88 L518.78,283.88 L519.21,283.88 L519.63,283.88 L520.06,283.87 L520.49,283.87 L520.91,283.87 L521.34,283.87 L521.77,283.87 L522.19,283.87 L522.62,283.87 L523.05,283.87 L523.47,283.87 L523.90,283.87 L524.33,283.87 L524.75,283.87 L525.18,283.87 L525.61,283.87 L526.04,283.87 L526.46,283.87 L526.89,283.87 L527.32,283.86 L527.74,283.86 L528.17,283.86 L528.60,283.86 L529.02,283.86 L529.45,283.86 L529.88,283.86 L530.30,283.86 L530.73,283.86 L531.16,283.86 L531.58,283.86 L532.01,283.86 L532.44,283.86 L532.86,283.86 L533.29,283.86 L533.72,283.86 L534.15,283.86 L534.57,283.86 L535.00,283.86 L535.43,283.86 L535.85,283.86 L536.28,283.86 L536.71,283.86 L537.13,283.86 L537.56,283.86 L537.99,283.85 L538.41,283.85 L538.84,283.85 L539.27,283.85 L539.69,283.85 L540.12,283.85 L540.55,283.85 L540.97,283.85 L541.40,283.85 L541.83,283.85 L542.26,283.85 L542.68,283.85 L543.11,283.85 L543.54,283.85 L543.96,283.85 L544.39,283.85 L544.82,283.85 L545.24,283.85 L545.67,283.85 L546.10,283.85 L546.52,283.85 L546.95,283.85 L547.38,283.85 L547.80,283.85 L548.23,283.85 L548.66,283.85 L549.09,283.85 L549.51,283.85 L549.94,283.85 L550.37,283.85 L550.79,283.85 L551.22,283.85 L551.65,283.85 L552.07,283.85 L552.50,283.85" stroke="#111" stroke-width="0.95" fill="none" stroke-linejoin="round"/>
<path clip-path="url(#cP4)" d="M339.50,283.80 L339.93,283.80 L340.35,283.80 L340.78,283.80 L341.21,283.80 L341.63,283.80 L342.06,283.80 L342.49,283.80 L342.91,283.80 L343.34,283.80 L343.77,283.80 L344.20,283.80 L344.62,283.80 L345.05,283.80 L345.48,283.80 L345.90,283.80 L346.33,283.80 L346.76,283.80 L347.18,283.80 L347.61,283.80 L348.04,283.80 L348.46,283.80 L348.89,283.80 L349.32,283.80 L349.74,283.80 L350.17,283.80 L350.60,283.80 L351.03,283.80 L351.45,283.80 L351.88,283.80 L352.31,283.80 L352.73,283.80 L353.16,283.80 L353.59,283.80 L354.01,283.80 L354.44,283.80 L354.87,283.80 L355.29,283.80 L355.72,283.80 L356.15,283.80 L356.57,283.80 L357.00,283.80 L357.43,283.80 L357.85,283.80 L358.28,283.80 L358.71,283.80 L359.14,283.80 L359.56,283.80 L359.99,283.80 L360.42,283.80 L360.84,283.80 L361.27,283.80 L361.70,283.80 L362.12,283.80 L362.55,283.80 L362.98,283.80 L363.40,283.80 L363.83,283.80 L364.26,283.80 L364.68,283.80 L365.11,283.80 L365.54,283.80 L365.96,283.80 L366.39,283.80 L366.82,283.80 L367.25,283.80 L367.67,283.80 L368.10,283.80 L368.53,283.80 L368.95,283.80 L369.38,283.80 L369.81,283.80 L370.23,283.80 L370.66,283.80 L371.09,283.80 L371.51,283.80 L371.94,283.80 L372.37,283.80 L372.79,283.80 L373.22,283.80 L373.65,283.80 L374.08,283.80 L374.50,283.80 L374.93,283.80 L375.36,283.80 L375.78,283.80 L376.21,283.80 L376.64,283.80 L377.06,283.80 L377.49,283.80 L377.92,283.80 L378.34,283.80 L378.77,283.80 L379.20,283.80 L379.62,283.80 L380.05,283.80 L380.48,283.80 L380.90,283.80 L381.33,283.80 L381.76,283.80 L382.19,283.80 L382.61,283.80 L383.04,283.80 L383.47,283.80 L383.89,283.80 L384.32,283.80 L384.75,283.80 L385.17,283.80 L385.60,283.80 L386.03,283.80 L386.45,283.80 L386.88,283.80 L387.31,283.80 L387.73,283.80 L388.16,283.80 L388.59,283.80 L389.02,283.80 L389.44,283.80 L389.87,283.80 L390.30,283.80 L390.72,283.79 L391.15,283.79 L391.58,283.79 L392.00,283.79 L392.43,283.79 L392.86,283.79 L393.28,283.79 L393.71,283.79 L394.14,283.78 L394.56,283.78 L394.99,283.78 L395.42,283.78 L395.84,283.78 L396.27,283.78 L396.70,283.77 L397.13,283.77 L397.55,283.77 L397.98,283.77 L398.41,283.76 L398.83,283.76 L399.26,283.76 L399.69,283.76 L400.11,283.75 L400.54,283.75 L400.97,283.75 L401.39,283.74 L401.82,283.74 L402.25,283.74 L402.67,283.73 L403.10,283.73 L403.53,283.73 L403.95,283.72 L404.38,283.72 L404.81,283.72 L405.24,283.71 L405.66,283.71 L406.09,283.70 L406.52,283.70 L406.94,283.70 L407.37,283.69 L407.80,283.69 L408.22,283.68 L408.65,283.68 L409.08,283.67 L409.50,283.67 L409.93,283.66 L410.36,283.66 L410.78,283.65 L411.21,283.65 L411.64,283.64 L412.07,283.63 L412.49,283.62 L412.92,283.61 L413.35,283.60 L413.77,283.59 L414.20,283.57 L414.63,283.56 L415.05,283.54 L415.48,283.52 L415.91,283.50 L416.33,283.48 L416.76,283.45 L417.19,283.43 L417.61,283.40 L418.04,283.37 L418.47,283.35 L418.89,283.32 L419.32,283.29 L419.75,283.25 L420.18,283.22 L420.60,283.19 L421.03,283.14 L421.46,283.09 L421.88,283.04 L422.31,282.97 L422.74,282.90 L423.16,282.82 L423.59,282.73 L424.02,282.64 L424.44,282.53 L424.87,282.43 L425.30,282.31 L425.72,282.19 L426.15,282.06 L426.58,281.91 L427.01,281.73 L427.43,281.52 L427.86,281.28 L428.29,281.02 L428.71,280.73 L429.14,280.43 L429.57,280.10 L429.99,279.77 L430.42,279.37 L430.85,278.91 L431.27,278.40 L431.70,277.87 L432.13,277.32 L432.55,276.77 L432.98,276.25 L433.41,275.75 L433.83,275.27 L434.26,274.79 L434.69,274.28 L435.12,273.71 L435.54,273.05 L435.97,272.36 L436.40,271.70 L436.82,271.13 L437.25,270.68 L437.68,270.30 L438.10,270.01 L438.53,269.81 L438.96,269.70 L439.38,269.81 L439.81,270.05 L440.24,270.43 L440.66,270.94 L441.09,271.57 L441.52,272.34 L441.94,273.19 L442.37,274.08 L442.80,275.05 L443.23,276.12 L443.65,277.23 L444.08,278.35 L444.51,279.50 L444.93,280.67 L445.36,281.86 L445.79,283.09 L446.21,284.34 L446.64,285.57 L447.07,286.77 L447.49,287.94 L447.92,289.09 L448.35,290.21 L448.77,291.33 L449.20,292.40 L449.63,293.39 L450.06,294.29 L450.48,295.15 L450.91,295.93 L451.34,296.58 L451.76,297.10 L452.19,297.51 L452.62,297.76 L453.04,297.90 L453.47,297.82 L453.90,297.62 L454.32,297.35 L454.75,296.98 L455.18,296.54 L455.60,295.98 L456.03,295.33 L456.46,294.64 L456.88,293.98 L457.31,293.40 L457.74,292.88 L458.17,292.40 L458.59,291.92 L459.02,291.43 L459.45,290.90 L459.87,290.36 L460.30,289.81 L460.73,289.27 L461.15,288.76 L461.58,288.29 L462.01,287.89 L462.43,287.54 L462.86,287.22 L463.29,286.91 L463.71,286.62 L464.14,286.36 L464.57,286.11 L464.99,285.90 L465.42,285.71 L465.85,285.56 L466.28,285.43 L466.70,285.31 L467.13,285.19 L467.56,285.08 L467.98,284.98 L468.41,284.88 L468.84,284.79 L469.26,284.71 L469.69,284.64 L470.12,284.57 L470.54,284.51 L470.97,284.46 L471.40,284.42 L471.82,284.38 L472.25,284.35 L472.68,284.32 L473.11,284.29 L473.53,284.26 L473.96,284.23 L474.39,284.20 L474.81,284.18 L475.24,284.15 L475.67,284.13 L476.09,284.11 L476.52,284.08 L476.95,284.07 L477.37,284.05 L477.80,284.03 L478.23,284.02 L478.65,284.00 L479.08,283.99 L479.51,283.98 L479.93,283.97 L480.36,283.96 L480.79,283.95 L481.22,283.95 L481.64,283.94 L482.07,283.94 L482.50,283.93 L482.92,283.93 L483.35,283.92 L483.78,283.92 L484.20,283.91 L484.63,283.91 L485.06,283.91 L485.48,283.90 L485.91,283.90 L486.34,283.89 L486.76,283.89 L487.19,283.88 L487.62,283.88 L488.05,283.88 L488.47,283.87 L488.90,283.87 L489.33,283.87 L489.75,283.86 L490.18,283.86 L490.61,283.86 L491.03,283.85 L491.46,283.85 L491.89,283.85 L492.31,283.84 L492.74,283.84 L493.17,283.84 L493.59,283.84 L494.02,283.83 L494.45,283.83 L494.87,283.83 L495.30,283.83 L495.73,283.83 L496.16,283.82 L496.58,283.82 L497.01,283.82 L497.44,283.82 L497.86,283.82 L498.29,283.81 L498.72,283.81 L499.14,283.81 L499.57,283.81 L500.00,283.81 L500.42,283.81 L500.85,283.81 L501.28,283.81 L501.70,283.80 L502.13,283.80 L502.56,283.80 L502.98,283.80 L503.41,283.80 L503.84,283.80 L504.27,283.80 L504.69,283.80 L505.12,283.80 L505.55,283.80 L505.97,283.80 L506.40,283.80 L506.83,283.80 L507.25,283.80 L507.68,283.80 L508.11,283.80 L508.53,283.80 L508.96,283.80 L509.39,283.80 L509.81,283.80 L510.24,283.80 L510.67,283.80 L511.10,283.80 L511.52,283.80 L511.95,283.80 L512.38,283.80 L512.80,283.80 L513.23,283.80 L513.66,283.80 L514.08,283.80 L514.51,283.80 L514.94,283.80 L515.36,283.80 L515.79,283.80 L516.22,283.80 L516.64,283.80 L517.07,283.80 L517.50,283.80 L517.92,283.80 L518.35,283.80 L518.78,283.80 L519.21,283.80 L519.63,283.80 L520.06,283.80 L520.49,283.80 L520.91,283.80 L521.34,283.80 L521.77,283.80 L522.19,283.80 L522.62,283.80 L523.05,283.80 L523.47,283.80 L523.90,283.80 L524.33,283.80 L524.75,283.80 L525.18,283.80 L525.61,283.80 L526.04,283.80 L526.46,283.80 L526.89,283.80 L527.32,283.80 L527.74,283.80 L528.17,283.80 L528.60,283.80 L529.02,283.80 L529.45,283.80 L529.88,283.80 L530.30,283.80 L530.73,283.80 L531.16,283.80 L531.58,283.80 L532.01,283.80 L532.44,283.80 L532.86,283.80 L533.29,283.80 L533.72,283.80 L534.15,283.80 L534.57,283.80 L535.00,283.80 L535.43,283.80 L535.85,283.80 L536.28,283.80 L536.71,283.80 L537.13,283.80 L537.56,283.80 L537.99,283.80 L538.41,283.80 L538.84,283.80 L539.27,283.80 L539.69,283.80 L540.12,283.80 L540.55,283.80 L540.97,283.80 L541.40,283.80 L541.83,283.80 L542.26,283.80 L542.68,283.80 L543.11,283.80 L543.54,283.80 L543.96,283.80 L544.39,283.80 L544.82,283.80 L545.24,283.80 L545.67,283.80 L546.10,283.80 L546.52,283.80 L546.95,283.80 L547.38,283.80 L547.80,283.80 L548.23,283.80 L548.66,283.80 L549.09,283.80 L549.51,283.80 L549.94,283.80 L550.37,283.80 L550.79,283.80 L551.22,283.80 L551.65,283.80 L552.07,283.80 L552.50,283.80" stroke="#f00" stroke-width="0.95" fill="none" stroke-linejoin="round"/>
<text transform="translate(355.31,372.55) scale(1.075,1)" text-anchor="middle" class="ti">-0.06</text>
<text transform="translate(385.74,372.55) scale(1.075,1)" text-anchor="middle" class="ti">-0.04</text>
<text transform="translate(416.17,372.55) scale(1.075,1)" text-anchor="middle" class="ti">-0.02</text>
<text transform="translate(446.60,372.55) scale(1.075,1)" text-anchor="middle" class="ti">0.00</text>
<text transform="translate(477.03,372.55) scale(1.075,1)" text-anchor="middle" class="ti">0.02</text>
<text transform="translate(507.46,372.55) scale(1.075,1)" text-anchor="middle" class="ti">0.04</text>
<text transform="translate(537.89,372.55) scale(1.075,1)" text-anchor="middle" class="ti">0.06</text>
<text transform="translate(446.00,384.15) scale(1.035,1)" text-anchor="middle" class="tr">λ (nm)</text>
<text transform="translate(337.50,359.35) scale(1.075,1)" text-anchor="end" class="ti">-0.3</text>
<text transform="translate(337.50,337.98) scale(1.075,1)" text-anchor="end" class="ti">-0.2</text>
<text transform="translate(337.50,312.92) scale(1.075,1)" text-anchor="end" class="ti">-0.1</text>
<text transform="translate(337.50,287.85) scale(1.075,1)" text-anchor="end" class="ti">-0.0</text>
<text transform="translate(337.50,262.78) scale(1.075,1)" text-anchor="end" class="ti">0.1</text>
<text transform="translate(337.50,237.72) scale(1.075,1)" text-anchor="end" class="ti">0.2</text>
<text transform="translate(337.50,214.65) scale(1.075,1)" text-anchor="end" class="ti">0.3</text>
<text transform="translate(309.00,283.15) rotate(-90) scale(1.075,1)" text-anchor="middle" class="ti">V/I<tspan class="sub" dy="3.1">c</tspan></text>
</svg>
</body></html>
